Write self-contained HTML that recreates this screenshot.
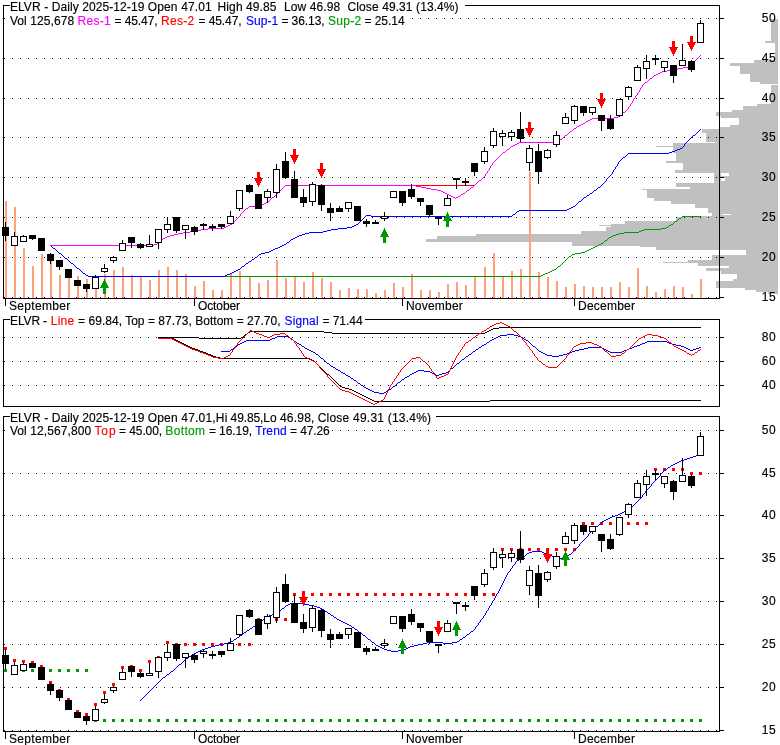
<!DOCTYPE html>
<html><head><meta charset="utf-8"><title>ELVR chart</title>
<style>html,body{margin:0;padding:0;background:#fff}svg{display:block}text{white-space:pre;stroke-width:0.15px}</style>
</head><body>
<svg width="780" height="745" viewBox="0 0 780 745" font-family="Liberation Sans, Arial, sans-serif" font-size="12px">
<rect x="0" y="0" width="780" height="745" fill="#fff"/>
<g shape-rendering="crispEdges">
<rect x="771" y="19" width="7" height="22" fill="#c0c0c0"/>
<rect x="765" y="41" width="13" height="2" fill="#c0c0c0"/>
<rect x="775" y="43" width="3" height="17" fill="#c0c0c0"/>
<rect x="754" y="60" width="24" height="3" fill="#c0c0c0"/>
<rect x="730" y="63" width="48" height="3" fill="#c0c0c0"/>
<rect x="740" y="66" width="38" height="8" fill="#c0c0c0"/>
<rect x="750" y="74" width="28" height="8" fill="#c0c0c0"/>
<rect x="760" y="82" width="18" height="2" fill="#c0c0c0"/>
<rect x="771" y="85" width="7" height="19" fill="#c0c0c0"/>
<rect x="757" y="104" width="21" height="2" fill="#c0c0c0"/>
<rect x="743" y="106" width="35" height="4" fill="#c0c0c0"/>
<rect x="732" y="110" width="46" height="2" fill="#c0c0c0"/>
<rect x="716" y="112" width="62" height="4" fill="#c0c0c0"/>
<rect x="721" y="116" width="57" height="2" fill="#c0c0c0"/>
<rect x="739" y="118" width="39" height="7" fill="#c0c0c0"/>
<rect x="730" y="125" width="48" height="2" fill="#c0c0c0"/>
<rect x="720" y="127" width="58" height="2" fill="#c0c0c0"/>
<rect x="702" y="129" width="76" height="4" fill="#c0c0c0"/>
<rect x="706" y="133" width="72" height="9" fill="#c0c0c0"/>
<rect x="715" y="142" width="63" height="1" fill="#c0c0c0"/>
<rect x="673" y="143" width="105" height="3" fill="#c0c0c0"/>
<rect x="656" y="146" width="122" height="1" fill="#c0c0c0"/>
<rect x="673" y="147" width="105" height="6" fill="#c0c0c0"/>
<rect x="676" y="153" width="102" height="8" fill="#c0c0c0"/>
<rect x="666" y="161" width="112" height="2" fill="#c0c0c0"/>
<rect x="683" y="163" width="95" height="7" fill="#c0c0c0"/>
<rect x="675" y="170" width="103" height="3" fill="#c0c0c0"/>
<rect x="714" y="173" width="64" height="10" fill="#c0c0c0"/>
<rect x="676" y="183" width="102" height="4" fill="#c0c0c0"/>
<rect x="690" y="187" width="88" height="2" fill="#c0c0c0"/>
<rect x="642" y="189" width="136" height="1" fill="#c0c0c0"/>
<rect x="647" y="190" width="131" height="8" fill="#c0c0c0"/>
<rect x="654" y="198" width="124" height="3" fill="#c0c0c0"/>
<rect x="671" y="201" width="107" height="3" fill="#c0c0c0"/>
<rect x="695" y="204" width="83" height="4" fill="#c0c0c0"/>
<rect x="708" y="208" width="70" height="5" fill="#c0c0c0"/>
<rect x="712" y="213" width="66" height="3" fill="#c0c0c0"/>
<rect x="700" y="216" width="78" height="1" fill="#c0c0c0"/>
<rect x="676" y="217" width="102" height="4" fill="#c0c0c0"/>
<rect x="625" y="221" width="153" height="3" fill="#c0c0c0"/>
<rect x="611" y="224" width="167" height="3" fill="#c0c0c0"/>
<rect x="599" y="225" width="179" height="1" fill="#c0c0c0"/>
<rect x="606" y="227" width="172" height="4" fill="#c0c0c0"/>
<rect x="581" y="231" width="197" height="3" fill="#c0c0c0"/>
<rect x="476" y="234" width="302" height="2" fill="#c0c0c0"/>
<rect x="437" y="236" width="341" height="3" fill="#c0c0c0"/>
<rect x="426" y="239" width="352" height="3" fill="#c0c0c0"/>
<rect x="572" y="242" width="206" height="4" fill="#c0c0c0"/>
<rect x="640" y="246" width="138" height="1" fill="#c0c0c0"/>
<rect x="656" y="247" width="122" height="3" fill="#c0c0c0"/>
<rect x="746" y="250" width="32" height="5" fill="#c0c0c0"/>
<rect x="712" y="255" width="66" height="5" fill="#c0c0c0"/>
<rect x="688" y="260" width="90" height="2" fill="#c0c0c0"/>
<rect x="663" y="262" width="115" height="1" fill="#c0c0c0"/>
<rect x="698" y="263" width="80" height="3" fill="#c0c0c0"/>
<rect x="729" y="266" width="49" height="2" fill="#c0c0c0"/>
<rect x="706" y="268" width="72" height="3" fill="#c0c0c0"/>
<rect x="721" y="271" width="57" height="3" fill="#c0c0c0"/>
<rect x="737" y="274" width="41" height="5" fill="#c0c0c0"/>
<rect x="733" y="279" width="45" height="2" fill="#c0c0c0"/>
<rect x="716" y="281" width="62" height="7" fill="#c0c0c0"/>
<rect x="745" y="288" width="33" height="2" fill="#c0c0c0"/>
<rect x="756" y="290" width="22" height="2" fill="#c0c0c0"/>
<rect x="768" y="292" width="10" height="2" fill="#c0c0c0"/>
<rect x="721" y="173" width="8" height="3" fill="#fff"/>
<rect x="721" y="178" width="4" height="3" fill="#fff"/>
<rect x="722" y="214" width="9" height="1" fill="#fff"/>
<rect x="721" y="266" width="8" height="2" fill="#fff"/>
<path d="M4 18.5H719" stroke="#000" stroke-dasharray="1 7" fill="none"/>
<rect x="720" y="18" width="4" height="1" fill="#000"/>
<path d="M4 58.5H719" stroke="#000" stroke-dasharray="1 7" fill="none"/>
<rect x="720" y="58" width="4" height="1" fill="#000"/>
<path d="M4 98.5H719" stroke="#000" stroke-dasharray="1 7" fill="none"/>
<rect x="720" y="98" width="4" height="1" fill="#000"/>
<path d="M4 137.5H719" stroke="#000" stroke-dasharray="1 7" fill="none"/>
<rect x="720" y="137" width="4" height="1" fill="#000"/>
<path d="M4 177.5H719" stroke="#000" stroke-dasharray="1 7" fill="none"/>
<rect x="720" y="177" width="4" height="1" fill="#000"/>
<path d="M4 217.5H719" stroke="#000" stroke-dasharray="1 7" fill="none"/>
<rect x="720" y="217" width="4" height="1" fill="#000"/>
<path d="M4 257.5H719" stroke="#000" stroke-dasharray="1 7" fill="none"/>
<rect x="720" y="257" width="4" height="1" fill="#000"/>
<path d="M4 297.5H719" stroke="#000" stroke-dasharray="1 7" fill="none"/>
<rect x="720" y="297" width="4" height="1" fill="#000"/>
<rect x="5" y="201" width="2" height="97" fill="#ffa07a"/>
<rect x="14" y="207" width="2" height="91" fill="#ffa07a"/>
<rect x="23" y="248" width="2" height="50" fill="#ffa07a"/>
<rect x="32" y="266" width="2" height="32" fill="#ffa07a"/>
<rect x="41" y="254" width="2" height="44" fill="#ffa07a"/>
<rect x="50" y="258" width="2" height="40" fill="#ffa07a"/>
<rect x="59" y="275" width="2" height="23" fill="#ffa07a"/>
<rect x="68" y="272" width="2" height="26" fill="#ffa07a"/>
<rect x="77" y="276" width="2" height="22" fill="#ffa07a"/>
<rect x="86" y="279" width="2" height="19" fill="#ffa07a"/>
<rect x="95" y="278" width="2" height="20" fill="#ffa07a"/>
<rect x="104" y="274" width="2" height="24" fill="#ffa07a"/>
<rect x="113" y="270" width="2" height="28" fill="#ffa07a"/>
<rect x="122" y="267" width="2" height="31" fill="#ffa07a"/>
<rect x="131" y="275" width="2" height="23" fill="#ffa07a"/>
<rect x="140" y="276" width="2" height="22" fill="#ffa07a"/>
<rect x="149" y="280" width="2" height="18" fill="#ffa07a"/>
<rect x="158" y="270" width="2" height="28" fill="#ffa07a"/>
<rect x="167" y="267" width="2" height="31" fill="#ffa07a"/>
<rect x="176" y="270" width="2" height="28" fill="#ffa07a"/>
<rect x="185" y="274" width="2" height="24" fill="#ffa07a"/>
<rect x="194" y="286" width="2" height="12" fill="#ffa07a"/>
<rect x="203" y="281" width="2" height="17" fill="#ffa07a"/>
<rect x="212" y="290" width="2" height="8" fill="#ffa07a"/>
<rect x="221" y="290" width="2" height="8" fill="#ffa07a"/>
<rect x="230" y="274" width="2" height="24" fill="#ffa07a"/>
<rect x="239" y="271" width="2" height="27" fill="#ffa07a"/>
<rect x="249" y="277" width="2" height="21" fill="#ffa07a"/>
<rect x="258" y="283" width="2" height="15" fill="#ffa07a"/>
<rect x="267" y="280" width="2" height="18" fill="#ffa07a"/>
<rect x="276" y="260" width="2" height="38" fill="#ffa07a"/>
<rect x="285" y="278" width="2" height="20" fill="#ffa07a"/>
<rect x="294" y="276" width="2" height="22" fill="#ffa07a"/>
<rect x="303" y="282" width="2" height="16" fill="#ffa07a"/>
<rect x="312" y="272" width="2" height="26" fill="#ffa07a"/>
<rect x="321" y="278" width="2" height="20" fill="#ffa07a"/>
<rect x="330" y="282" width="2" height="16" fill="#ffa07a"/>
<rect x="339" y="290" width="2" height="8" fill="#ffa07a"/>
<rect x="348" y="288" width="2" height="10" fill="#ffa07a"/>
<rect x="357" y="289" width="2" height="9" fill="#ffa07a"/>
<rect x="366" y="289" width="2" height="9" fill="#ffa07a"/>
<rect x="375" y="293" width="2" height="5" fill="#ffa07a"/>
<rect x="384" y="290" width="2" height="8" fill="#ffa07a"/>
<rect x="393" y="283" width="2" height="15" fill="#ffa07a"/>
<rect x="402" y="287" width="2" height="11" fill="#ffa07a"/>
<rect x="411" y="274" width="2" height="24" fill="#ffa07a"/>
<rect x="420" y="290" width="2" height="8" fill="#ffa07a"/>
<rect x="429" y="290" width="2" height="8" fill="#ffa07a"/>
<rect x="438" y="292" width="2" height="6" fill="#ffa07a"/>
<rect x="447" y="284" width="2" height="14" fill="#ffa07a"/>
<rect x="456" y="282" width="2" height="16" fill="#ffa07a"/>
<rect x="465" y="285" width="2" height="13" fill="#ffa07a"/>
<rect x="474" y="277" width="2" height="21" fill="#ffa07a"/>
<rect x="484" y="267" width="2" height="31" fill="#ffa07a"/>
<rect x="493" y="253" width="2" height="45" fill="#ffa07a"/>
<rect x="502" y="277" width="2" height="21" fill="#ffa07a"/>
<rect x="511" y="271" width="2" height="27" fill="#ffa07a"/>
<rect x="520" y="269" width="2" height="29" fill="#ffa07a"/>
<rect x="529" y="172" width="2" height="126" fill="#ffa07a"/>
<rect x="538" y="272" width="2" height="26" fill="#ffa07a"/>
<rect x="547" y="277" width="2" height="21" fill="#ffa07a"/>
<rect x="556" y="281" width="2" height="17" fill="#ffa07a"/>
<rect x="565" y="287" width="2" height="11" fill="#ffa07a"/>
<rect x="574" y="284" width="2" height="14" fill="#ffa07a"/>
<rect x="583" y="286" width="2" height="12" fill="#ffa07a"/>
<rect x="592" y="287" width="2" height="11" fill="#ffa07a"/>
<rect x="601" y="287" width="2" height="11" fill="#ffa07a"/>
<rect x="610" y="287" width="2" height="11" fill="#ffa07a"/>
<rect x="619" y="282" width="2" height="16" fill="#ffa07a"/>
<rect x="628" y="287" width="2" height="11" fill="#ffa07a"/>
<rect x="637" y="268" width="2" height="30" fill="#ffa07a"/>
<rect x="646" y="286" width="2" height="12" fill="#ffa07a"/>
<rect x="655" y="292" width="2" height="6" fill="#ffa07a"/>
<rect x="664" y="289" width="2" height="9" fill="#ffa07a"/>
<rect x="673" y="286" width="2" height="12" fill="#ffa07a"/>
<rect x="682" y="287" width="2" height="11" fill="#ffa07a"/>
<rect x="691" y="294" width="2" height="4" fill="#ffa07a"/>
<rect x="700" y="279" width="2" height="19" fill="#ffa07a"/>
<rect x="3" y="5" width="1" height="294" fill="#000"/>
<rect x="3" y="5" width="717" height="1" fill="#000"/>
<rect x="719" y="5" width="1" height="294" fill="#000"/>
<rect x="3" y="298" width="717" height="1" fill="#000"/>
<rect x="5" y="299" width="1" height="7" fill="#000"/>
<rect x="194" y="299" width="1" height="7" fill="#000"/>
<rect x="402" y="299" width="1" height="7" fill="#000"/>
<rect x="574" y="299" width="1" height="7" fill="#000"/>
</g>
<g shape-rendering="crispEdges">
<path d="M682 216.5h19M681 217.5h1M679 218.5h2M678 219.5h1M677 220.5h1M675 221.5h2M674 222.5h1M673 223.5h1M671 224.5h2M669 225.5h2M668 226.5h1M666 227.5h2M661 228.5h5M644 229.5h17M641 230.5h3M639 231.5h2M624 232.5h15M619 233.5h5M616 234.5h3M613 235.5h3M611 236.5h2M609 237.5h2M608 238.5h1M607 239.5h1M605 240.5h2M604 241.5h1M603 242.5h1M601 243.5h2M599 244.5h2M597 245.5h2M595 246.5h2M593 247.5h2M591 248.5h2M589 249.5h2M587 250.5h2M585 251.5h2M581 252.5h4M575 253.5h6M572 254.5h3M571 255.5h1M569 256.5h2M568 257.5h1M567 258.5h1M566 259.5h1M565 260.5h1M564 261.5h1M563 262.5h1M562 263.5h1M561 264.5h1M560 265.5h1M558 266.5h2M557 267.5h1M556 268.5h1M554 269.5h2M552 270.5h2M550 271.5h2M548 272.5h2M545 273.5h3M543 274.5h2M541 275.5h2M90 276.5h451" fill="none" stroke="#009900" stroke-width="1"/>
<path d="M700 129.5h1M699 130.5h1M698 131.5h1M697 132.5h1M696 133.5h1M695 134.5h1M693 135.5h2M692 136.5h1M691 137.5h1M690 138.5h1M689 139.5h1M688 140.5h1M687 141.5h1M686 142.5h1M685 143.5h1M684 144.5h1M684 145.5h1M683 146.5h1M682 147.5h1M680 148.5h2M677 149.5h3M675 150.5h2M672 151.5h3M669 152.5h3M628 153.5h41M627 154.5h1M626 155.5h1M625 156.5h1M623 157.5h2M622 158.5h1M621 159.5h1M620 160.5h1M619 161.5h1M618 162.5h1M618 163.5h1M617 164.5h1M617 165.5h1M616 166.5h1M615 167.5h1M615 168.5h1M614 169.5h1M613 170.5h1M613 171.5h1M612 172.5h1M612 173.5h1M611 174.5h1M610 175.5h1M609 176.5h1M608 177.5h1M607 178.5h1M606 179.5h1M606 180.5h1M605 181.5h1M604 182.5h1M603 183.5h1M602 184.5h1M601 185.5h1M600 186.5h1M598 187.5h2M597 188.5h1M596 189.5h1M594 190.5h2M593 191.5h1M592 192.5h1M590 193.5h2M589 194.5h1M587 195.5h2M586 196.5h1M584 197.5h2M583 198.5h1M582 199.5h1M581 200.5h1M579 201.5h2M578 202.5h1M577 203.5h1M576 204.5h1M575 205.5h1M573 206.5h2M571 207.5h2M569 208.5h2M567 209.5h2M519 210.5h48M517 211.5h2M516 212.5h1M515 213.5h1M513 214.5h2M366 215.5h5M512 215.5h1M365 216.5h1M371 216.5h141M364 217.5h1M363 218.5h1M362 219.5h1M361 220.5h1M360 221.5h1M359 222.5h1M358 223.5h1M356 224.5h2M354 225.5h2M352 226.5h2M347 227.5h5M338 228.5h9M331 229.5h7M327 230.5h4M323 231.5h4M309 232.5h14M305 233.5h4M302 234.5h3M299 235.5h3M297 236.5h2M295 237.5h2M293 238.5h2M291 239.5h2M290 240.5h1M289 241.5h1M287 242.5h2M286 243.5h1M284 244.5h2M50 245.5h1M282 245.5h2M51 246.5h1M280 246.5h2M52 247.5h1M278 247.5h2M53 248.5h2M275 248.5h3M55 249.5h1M273 249.5h2M56 250.5h1M271 250.5h2M57 251.5h1M269 251.5h2M58 252.5h1M265 252.5h4M59 253.5h2M261 253.5h4M61 254.5h1M259 254.5h2M62 255.5h1M258 255.5h1M63 256.5h1M257 256.5h1M64 257.5h1M255 257.5h2M65 258.5h2M254 258.5h1M67 259.5h1M252 259.5h2M68 260.5h1M251 260.5h1M69 261.5h1M249 261.5h2M70 262.5h1M248 262.5h1M71 263.5h2M246 263.5h2M73 264.5h1M245 264.5h1M74 265.5h1M244 265.5h1M75 266.5h1M242 266.5h2M76 267.5h1M241 267.5h1M77 268.5h2M240 268.5h1M79 269.5h1M238 269.5h2M80 270.5h1M236 270.5h2M81 271.5h1M234 271.5h2M82 272.5h1M232 272.5h2M83 273.5h2M230 273.5h2M85 274.5h1M227 274.5h3M86 275.5h2M225 275.5h2M88 276.5h137" fill="none" stroke="#0000ff" stroke-width="1"/>
<path d="M411 185.5h64" fill="none" stroke="#ff0000" stroke-width="1"/>
<path d="M700 55.5h1M699 56.5h1M698 57.5h1M697 58.5h1M696 59.5h1M695 60.5h1M694 61.5h1M694 62.5h1M693 63.5h1M692 64.5h1M692 65.5h1M689 66.5h3M683 67.5h6M678 68.5h5M673 69.5h5M667 70.5h6M662 71.5h5M660 72.5h2M658 73.5h2M656 74.5h2M654 75.5h2M653 76.5h1M652 77.5h1M650 78.5h2M649 79.5h1M648 80.5h1M647 81.5h1M645 82.5h2M644 83.5h1M643 84.5h1M642 85.5h1M642 86.5h1M641 87.5h1M640 88.5h1M640 89.5h1M639 90.5h1M639 91.5h1M638 92.5h1M637 93.5h1M637 94.5h1M636 95.5h1M635 96.5h1M635 97.5h1M634 98.5h1M633 99.5h1M633 100.5h1M632 101.5h1M632 102.5h1M631 103.5h1M630 104.5h1M630 105.5h1M629 106.5h1M628 107.5h1M628 108.5h1M627 109.5h1M626 110.5h1M625 111.5h1M623 112.5h2M622 113.5h1M621 114.5h1M620 115.5h1M618 116.5h2M614 117.5h4M592 118.5h22M590 119.5h2M588 120.5h2M586 121.5h2M585 122.5h1M583 123.5h2M581 124.5h2M579 125.5h2M577 126.5h2M576 127.5h1M574 128.5h2M573 129.5h1M572 130.5h1M570 131.5h2M569 132.5h1M568 133.5h1M567 134.5h1M565 135.5h2M564 136.5h1M563 137.5h1M562 138.5h1M560 139.5h2M557 140.5h3M555 141.5h2M519 142.5h36M517 143.5h2M515 144.5h2M513 145.5h2M511 146.5h2M510 147.5h1M509 148.5h1M507 149.5h2M506 150.5h1M505 151.5h1M503 152.5h2M502 153.5h1M501 154.5h1M500 155.5h1M499 156.5h1M498 157.5h1M497 158.5h1M496 159.5h1M495 160.5h1M494 161.5h1M493 162.5h1M492 163.5h1M492 164.5h1M491 165.5h1M490 166.5h1M490 167.5h1M489 168.5h1M489 169.5h1M488 170.5h1M487 171.5h1M487 172.5h1M486 173.5h1M485 174.5h1M485 175.5h1M484 176.5h1M483 177.5h1M482 178.5h1M481 179.5h1M479 180.5h2M478 181.5h1M477 182.5h1M476 183.5h1M475 184.5h1M285 185.5h131M474 185.5h1M284 186.5h1M416 186.5h5M473 186.5h1M283 187.5h1M421 187.5h5M471 187.5h2M282 188.5h1M426 188.5h5M470 188.5h1M281 189.5h1M431 189.5h6M469 189.5h1M280 190.5h1M437 190.5h4M467 190.5h2M279 191.5h1M441 191.5h2M466 191.5h1M278 192.5h1M443 192.5h2M465 192.5h1M277 193.5h1M445 193.5h2M463 193.5h2M276 194.5h1M447 194.5h2M461 194.5h2M275 195.5h1M449 195.5h2M460 195.5h1M274 196.5h1M451 196.5h2M458 196.5h2M272 197.5h2M453 197.5h2M456 197.5h2M271 198.5h1M455 198.5h1M270 199.5h1M269 200.5h1M268 201.5h1M266 202.5h2M264 203.5h2M262 204.5h2M260 205.5h2M249 206.5h11M248 207.5h1M246 208.5h2M245 209.5h1M244 210.5h1M243 211.5h1M242 212.5h1M241 213.5h1M240 214.5h1M240 215.5h1M239 216.5h1M238 217.5h1M237 218.5h1M236 219.5h1M235 220.5h1M234 221.5h1M233 222.5h1M232 223.5h1M230 224.5h2M228 225.5h2M226 226.5h2M224 227.5h2M208 228.5h16M201 229.5h7M197 230.5h4M190 231.5h7M183 232.5h7M178 233.5h5M174 234.5h4M170 235.5h4M167 236.5h3M165 237.5h2M163 238.5h2M162 239.5h1M161 240.5h1M160 241.5h1M159 242.5h1M157 243.5h2M154 244.5h3M50 245.5h97M152 245.5h2M147 246.5h5" fill="none" stroke="#ff00ff" stroke-width="1"/>
<rect x="5" y="222" width="1" height="5" fill="#000"/>
<rect x="5" y="236" width="1" height="5" fill="#000"/>
<rect x="2" y="227" width="7" height="9" fill="#000"/>
<rect x="14" y="232" width="1" height="4" fill="#000"/>
<rect x="11" y="236" width="7" height="10" fill="#000"/>
<rect x="12" y="237" width="5" height="8" fill="#fff"/>
<rect x="23" y="235" width="1" height="1" fill="#000"/>
<rect x="20" y="236" width="7" height="6" fill="#000"/>
<rect x="21" y="237" width="5" height="4" fill="#fff"/>
<rect x="32" y="239" width="1" height="1" fill="#000"/>
<rect x="29" y="235" width="7" height="4" fill="#000"/>
<rect x="38" y="238" width="7" height="13" fill="#000"/>
<rect x="50" y="253" width="1" height="1" fill="#000"/>
<rect x="50" y="261" width="1" height="3" fill="#000"/>
<rect x="47" y="254" width="7" height="7" fill="#000"/>
<rect x="59" y="267" width="1" height="3" fill="#000"/>
<rect x="56" y="260" width="7" height="7" fill="#000"/>
<rect x="65" y="269" width="7" height="9" fill="#000"/>
<rect x="74" y="280" width="7" height="6" fill="#000"/>
<rect x="86" y="289" width="1" height="3" fill="#000"/>
<rect x="83" y="284" width="7" height="5" fill="#000"/>
<rect x="95" y="275" width="1" height="2" fill="#000"/>
<rect x="92" y="277" width="7" height="12" fill="#000"/>
<rect x="93" y="278" width="5" height="10" fill="#fff"/>
<rect x="104" y="264" width="1" height="4" fill="#000"/>
<rect x="104" y="272" width="1" height="1" fill="#000"/>
<rect x="101" y="268" width="7" height="4" fill="#000"/>
<rect x="102" y="269" width="5" height="2" fill="#fff"/>
<rect x="113" y="256" width="1" height="1" fill="#000"/>
<rect x="113" y="261" width="1" height="2" fill="#000"/>
<rect x="110" y="257" width="7" height="4" fill="#000"/>
<rect x="111" y="258" width="5" height="2" fill="#fff"/>
<rect x="122" y="240" width="1" height="3" fill="#000"/>
<rect x="119" y="243" width="7" height="8" fill="#000"/>
<rect x="120" y="244" width="5" height="6" fill="#fff"/>
<rect x="131" y="243" width="1" height="5" fill="#000"/>
<rect x="128" y="237" width="7" height="6" fill="#000"/>
<rect x="140" y="243" width="1" height="1" fill="#000"/>
<rect x="140" y="248" width="1" height="1" fill="#000"/>
<rect x="137" y="244" width="7" height="4" fill="#000"/>
<rect x="149" y="235" width="1" height="9" fill="#000"/>
<rect x="146" y="244" width="7" height="3" fill="#000"/>
<rect x="147" y="245" width="5" height="1" fill="#fff"/>
<rect x="158" y="243" width="1" height="6" fill="#000"/>
<rect x="155" y="229" width="7" height="14" fill="#000"/>
<rect x="156" y="230" width="5" height="12" fill="#fff"/>
<rect x="167" y="217" width="1" height="7" fill="#000"/>
<rect x="167" y="230" width="1" height="3" fill="#000"/>
<rect x="164" y="224" width="7" height="6" fill="#000"/>
<rect x="165" y="225" width="5" height="4" fill="#fff"/>
<rect x="176" y="231" width="1" height="2" fill="#000"/>
<rect x="173" y="217" width="7" height="14" fill="#000"/>
<rect x="185" y="230" width="1" height="9" fill="#000"/>
<rect x="182" y="225" width="7" height="5" fill="#000"/>
<rect x="183" y="226" width="5" height="3" fill="#fff"/>
<rect x="194" y="226" width="1" height="1" fill="#000"/>
<rect x="194" y="232" width="1" height="3" fill="#000"/>
<rect x="191" y="227" width="7" height="5" fill="#000"/>
<rect x="203" y="223" width="1" height="1" fill="#000"/>
<rect x="203" y="226" width="1" height="4" fill="#000"/>
<rect x="200" y="224" width="7" height="2" fill="#000"/>
<rect x="212" y="224" width="1" height="2" fill="#000"/>
<rect x="212" y="228" width="1" height="3" fill="#000"/>
<rect x="209" y="226" width="7" height="2" fill="#000"/>
<rect x="221" y="227" width="1" height="2" fill="#000"/>
<rect x="218" y="224" width="7" height="3" fill="#000"/>
<rect x="230" y="211" width="1" height="5" fill="#000"/>
<rect x="227" y="216" width="7" height="8" fill="#000"/>
<rect x="228" y="217" width="5" height="6" fill="#fff"/>
<rect x="239" y="209" width="1" height="2" fill="#000"/>
<rect x="236" y="190" width="7" height="19" fill="#000"/>
<rect x="237" y="191" width="5" height="17" fill="#fff"/>
<rect x="249" y="184" width="1" height="1" fill="#000"/>
<rect x="249" y="192" width="1" height="1" fill="#000"/>
<rect x="246" y="185" width="7" height="7" fill="#000"/>
<rect x="255" y="194" width="7" height="15" fill="#000"/>
<rect x="267" y="189" width="1" height="2" fill="#000"/>
<rect x="267" y="198" width="1" height="5" fill="#000"/>
<rect x="264" y="191" width="7" height="7" fill="#000"/>
<rect x="265" y="192" width="5" height="5" fill="#fff"/>
<rect x="276" y="164" width="1" height="5" fill="#000"/>
<rect x="276" y="193" width="1" height="5" fill="#000"/>
<rect x="273" y="169" width="7" height="24" fill="#000"/>
<rect x="274" y="170" width="5" height="22" fill="#fff"/>
<rect x="285" y="152" width="1" height="9" fill="#000"/>
<rect x="285" y="178" width="1" height="1" fill="#000"/>
<rect x="282" y="161" width="7" height="17" fill="#000"/>
<rect x="294" y="171" width="1" height="8" fill="#000"/>
<rect x="291" y="179" width="7" height="19" fill="#000"/>
<rect x="303" y="189" width="1" height="8" fill="#000"/>
<rect x="303" y="203" width="1" height="4" fill="#000"/>
<rect x="300" y="197" width="7" height="6" fill="#000"/>
<rect x="312" y="182" width="1" height="2" fill="#000"/>
<rect x="312" y="202" width="1" height="4" fill="#000"/>
<rect x="309" y="184" width="7" height="18" fill="#000"/>
<rect x="310" y="185" width="5" height="16" fill="#fff"/>
<rect x="321" y="184" width="1" height="1" fill="#000"/>
<rect x="321" y="205" width="1" height="6" fill="#000"/>
<rect x="318" y="185" width="7" height="20" fill="#000"/>
<rect x="330" y="203" width="1" height="5" fill="#000"/>
<rect x="330" y="213" width="1" height="8" fill="#000"/>
<rect x="327" y="208" width="7" height="5" fill="#000"/>
<rect x="339" y="206" width="1" height="2" fill="#000"/>
<rect x="336" y="208" width="7" height="4" fill="#000"/>
<rect x="348" y="209" width="1" height="3" fill="#000"/>
<rect x="345" y="202" width="7" height="7" fill="#000"/>
<rect x="346" y="203" width="5" height="5" fill="#fff"/>
<rect x="354" y="206" width="7" height="15" fill="#000"/>
<rect x="366" y="219" width="1" height="2" fill="#000"/>
<rect x="366" y="224" width="1" height="3" fill="#000"/>
<rect x="363" y="221" width="7" height="3" fill="#000"/>
<rect x="375" y="220" width="1" height="2" fill="#000"/>
<rect x="372" y="222" width="7" height="2" fill="#000"/>
<rect x="384" y="212" width="1" height="4" fill="#000"/>
<rect x="384" y="219" width="1" height="2" fill="#000"/>
<rect x="381" y="216" width="7" height="3" fill="#000"/>
<rect x="382" y="217" width="5" height="1" fill="#fff"/>
<rect x="390" y="191" width="7" height="7" fill="#000"/>
<rect x="391" y="192" width="5" height="5" fill="#fff"/>
<rect x="402" y="203" width="1" height="3" fill="#000"/>
<rect x="399" y="191" width="7" height="12" fill="#000"/>
<rect x="411" y="184" width="1" height="5" fill="#000"/>
<rect x="411" y="197" width="1" height="2" fill="#000"/>
<rect x="408" y="189" width="7" height="8" fill="#000"/>
<rect x="420" y="202" width="1" height="4" fill="#000"/>
<rect x="417" y="198" width="7" height="4" fill="#000"/>
<rect x="429" y="215" width="1" height="2" fill="#000"/>
<rect x="426" y="205" width="7" height="10" fill="#000"/>
<rect x="438" y="219" width="1" height="6" fill="#000"/>
<rect x="435" y="217" width="7" height="2" fill="#000"/>
<rect x="447" y="195" width="1" height="3" fill="#000"/>
<rect x="444" y="198" width="7" height="8" fill="#000"/>
<rect x="445" y="199" width="5" height="6" fill="#fff"/>
<rect x="456" y="180" width="1" height="9" fill="#000"/>
<rect x="453" y="178" width="7" height="2" fill="#000"/>
<rect x="465" y="178" width="1" height="3" fill="#000"/>
<rect x="465" y="183" width="1" height="3" fill="#000"/>
<rect x="462" y="181" width="7" height="2" fill="#000"/>
<rect x="474" y="172" width="1" height="4" fill="#000"/>
<rect x="471" y="163" width="7" height="9" fill="#000"/>
<rect x="484" y="147" width="1" height="4" fill="#000"/>
<rect x="484" y="162" width="1" height="2" fill="#000"/>
<rect x="481" y="151" width="7" height="11" fill="#000"/>
<rect x="482" y="152" width="5" height="9" fill="#fff"/>
<rect x="493" y="128" width="1" height="3" fill="#000"/>
<rect x="493" y="146" width="1" height="2" fill="#000"/>
<rect x="490" y="131" width="7" height="15" fill="#000"/>
<rect x="491" y="132" width="5" height="13" fill="#fff"/>
<rect x="502" y="130" width="1" height="3" fill="#000"/>
<rect x="502" y="137" width="1" height="9" fill="#000"/>
<rect x="499" y="133" width="7" height="4" fill="#000"/>
<rect x="500" y="134" width="5" height="2" fill="#fff"/>
<rect x="511" y="130" width="1" height="2" fill="#000"/>
<rect x="511" y="137" width="1" height="4" fill="#000"/>
<rect x="508" y="132" width="7" height="5" fill="#000"/>
<rect x="509" y="133" width="5" height="3" fill="#fff"/>
<rect x="520" y="112" width="1" height="17" fill="#000"/>
<rect x="520" y="139" width="1" height="3" fill="#000"/>
<rect x="517" y="129" width="7" height="10" fill="#000"/>
<rect x="529" y="145" width="1" height="3" fill="#000"/>
<rect x="529" y="163" width="1" height="8" fill="#000"/>
<rect x="526" y="148" width="7" height="15" fill="#000"/>
<rect x="527" y="149" width="5" height="13" fill="#fff"/>
<rect x="538" y="144" width="1" height="7" fill="#000"/>
<rect x="538" y="172" width="1" height="12" fill="#000"/>
<rect x="535" y="151" width="7" height="21" fill="#000"/>
<rect x="547" y="149" width="1" height="1" fill="#000"/>
<rect x="547" y="158" width="1" height="1" fill="#000"/>
<rect x="544" y="150" width="7" height="8" fill="#000"/>
<rect x="545" y="151" width="5" height="6" fill="#fff"/>
<rect x="556" y="131" width="1" height="4" fill="#000"/>
<rect x="556" y="145" width="1" height="2" fill="#000"/>
<rect x="553" y="135" width="7" height="10" fill="#000"/>
<rect x="554" y="136" width="5" height="8" fill="#fff"/>
<rect x="565" y="113" width="1" height="4" fill="#000"/>
<rect x="562" y="117" width="7" height="7" fill="#000"/>
<rect x="563" y="118" width="5" height="5" fill="#fff"/>
<rect x="574" y="105" width="1" height="1" fill="#000"/>
<rect x="574" y="121" width="1" height="3" fill="#000"/>
<rect x="571" y="106" width="7" height="15" fill="#000"/>
<rect x="572" y="107" width="5" height="13" fill="#fff"/>
<rect x="583" y="113" width="1" height="3" fill="#000"/>
<rect x="580" y="106" width="7" height="7" fill="#000"/>
<rect x="592" y="113" width="1" height="2" fill="#000"/>
<rect x="589" y="107" width="7" height="6" fill="#000"/>
<rect x="590" y="108" width="5" height="4" fill="#fff"/>
<rect x="601" y="121" width="1" height="10" fill="#000"/>
<rect x="598" y="115" width="7" height="6" fill="#000"/>
<rect x="610" y="115" width="1" height="4" fill="#000"/>
<rect x="610" y="129" width="1" height="1" fill="#000"/>
<rect x="607" y="119" width="7" height="10" fill="#000"/>
<rect x="619" y="116" width="1" height="1" fill="#000"/>
<rect x="616" y="99" width="7" height="17" fill="#000"/>
<rect x="617" y="100" width="5" height="15" fill="#fff"/>
<rect x="628" y="86" width="1" height="1" fill="#000"/>
<rect x="628" y="97" width="1" height="3" fill="#000"/>
<rect x="625" y="87" width="7" height="10" fill="#000"/>
<rect x="626" y="88" width="5" height="8" fill="#fff"/>
<rect x="637" y="65" width="1" height="2" fill="#000"/>
<rect x="634" y="67" width="7" height="14" fill="#000"/>
<rect x="635" y="68" width="5" height="12" fill="#fff"/>
<rect x="646" y="55" width="1" height="6" fill="#000"/>
<rect x="646" y="69" width="1" height="10" fill="#000"/>
<rect x="643" y="61" width="7" height="8" fill="#000"/>
<rect x="644" y="62" width="5" height="6" fill="#fff"/>
<rect x="655" y="55" width="1" height="3" fill="#000"/>
<rect x="655" y="60" width="1" height="5" fill="#000"/>
<rect x="652" y="58" width="7" height="2" fill="#000"/>
<rect x="664" y="68" width="1" height="4" fill="#000"/>
<rect x="661" y="61" width="7" height="7" fill="#000"/>
<rect x="662" y="62" width="5" height="5" fill="#fff"/>
<rect x="673" y="76" width="1" height="7" fill="#000"/>
<rect x="670" y="65" width="7" height="11" fill="#000"/>
<rect x="682" y="44" width="1" height="16" fill="#000"/>
<rect x="679" y="60" width="7" height="6" fill="#000"/>
<rect x="680" y="61" width="5" height="4" fill="#fff"/>
<rect x="691" y="60" width="1" height="1" fill="#000"/>
<rect x="691" y="70" width="1" height="2" fill="#000"/>
<rect x="688" y="61" width="7" height="9" fill="#000"/>
<rect x="700" y="20" width="1" height="3" fill="#000"/>
<rect x="697" y="23" width="7" height="20" fill="#000"/>
<rect x="698" y="24" width="5" height="18" fill="#fff"/>
</g>
<path d="M257 172.5h3M257 173.5h3M257 174.5h3M257 175.5h3M257 176.5h3M257 177.5h3M254 178.5h9M255 179.5h7M255 180.5h7M256 181.5h5M256 182.5h5M257 183.5h3M257 184.5h3M258 185.5h1M258 186.5h1" stroke="#ff0000" fill="none" shape-rendering="crispEdges"/>
<path d="M293 149.5h3M293 150.5h3M293 151.5h3M293 152.5h3M293 153.5h3M293 154.5h3M290 155.5h9M291 156.5h7M291 157.5h7M292 158.5h5M292 159.5h5M293 160.5h3M293 161.5h3M294 162.5h1M294 163.5h1" stroke="#ff0000" fill="none" shape-rendering="crispEdges"/>
<path d="M320 163.5h3M320 164.5h3M320 165.5h3M320 166.5h3M320 167.5h3M320 168.5h3M317 169.5h9M318 170.5h7M318 171.5h7M319 172.5h5M319 173.5h5M320 174.5h3M320 175.5h3M321 176.5h1M321 177.5h1" stroke="#ff0000" fill="none" shape-rendering="crispEdges"/>
<path d="M528 122.5h3M528 123.5h3M528 124.5h3M528 125.5h3M528 126.5h3M528 127.5h3M525 128.5h9M526 129.5h7M526 130.5h7M527 131.5h5M527 132.5h5M528 133.5h3M528 134.5h3M529 135.5h1M529 136.5h1" stroke="#ff0000" fill="none" shape-rendering="crispEdges"/>
<path d="M600 93.5h3M600 94.5h3M600 95.5h3M600 96.5h3M600 97.5h3M600 98.5h3M597 99.5h9M598 100.5h7M598 101.5h7M599 102.5h5M599 103.5h5M600 104.5h3M600 105.5h3M601 106.5h1M601 107.5h1" stroke="#ff0000" fill="none" shape-rendering="crispEdges"/>
<path d="M672 41.5h3M672 42.5h3M672 43.5h3M672 44.5h3M672 45.5h3M672 46.5h3M669 47.5h9M670 48.5h7M670 49.5h7M671 50.5h5M671 51.5h5M672 52.5h3M672 53.5h3M673 54.5h1M673 55.5h1" stroke="#ff0000" fill="none" shape-rendering="crispEdges"/>
<path d="M690 36.5h3M690 37.5h3M690 38.5h3M690 39.5h3M690 40.5h3M690 41.5h3M687 42.5h9M688 43.5h7M688 44.5h7M689 45.5h5M689 46.5h5M690 47.5h3M690 48.5h3M691 49.5h1M691 50.5h1" stroke="#ff0000" fill="none" shape-rendering="crispEdges"/>
<path d="M104 279.5h1M104 280.5h1M103 281.5h3M103 282.5h3M102 283.5h5M102 284.5h5M101 285.5h7M101 286.5h7M100 287.5h9M103 288.5h3M103 289.5h3M103 290.5h3M103 291.5h3M103 292.5h3M103 293.5h3" stroke="#009900" fill="none" shape-rendering="crispEdges"/>
<path d="M384 228.5h1M384 229.5h1M383 230.5h3M383 231.5h3M382 232.5h5M382 233.5h5M381 234.5h7M381 235.5h7M380 236.5h9M383 237.5h3M383 238.5h3M383 239.5h3M383 240.5h3M383 241.5h3M383 242.5h3" stroke="#009900" fill="none" shape-rendering="crispEdges"/>
<path d="M447 212.5h1M447 213.5h1M446 214.5h3M446 215.5h3M445 216.5h5M445 217.5h5M444 218.5h7M444 219.5h7M443 220.5h9M446 221.5h3M446 222.5h3M446 223.5h3M446 224.5h3M446 225.5h3M446 226.5h3" stroke="#009900" fill="none" shape-rendering="crispEdges"/>
<g shape-rendering="crispEdges">
<rect x="3" y="319" width="1" height="88" fill="#000"/>
<rect x="3" y="319" width="717" height="1" fill="#000"/>
<rect x="719" y="319" width="1" height="88" fill="#000"/>
<rect x="3" y="406" width="717" height="1" fill="#000"/>
<path d="M4 337.5H719" stroke="#000" stroke-dasharray="1 7" fill="none"/>
<rect x="720" y="337" width="4" height="1" fill="#000"/>
<path d="M4 361.5H719" stroke="#000" stroke-dasharray="1 7" fill="none"/>
<rect x="720" y="361" width="4" height="1" fill="#000"/>
<path d="M4 385.5H719" stroke="#000" stroke-dasharray="1 7" fill="none"/>
<rect x="720" y="385" width="4" height="1" fill="#000"/>
<path d="M499 327.5h202M493 328.5h6M491 329.5h2M489 330.5h2M250 331.5h74M487 331.5h2M248 332.5h2M324 332.5h8M485 332.5h2M247 333.5h1M332 333.5h153M245 334.5h2M244 335.5h1M243 336.5h1M158 337.5h41M241 337.5h2M199 338.5h42" fill="none" stroke="#000" stroke-width="1"/>
<path d="M170 337.5h2M172 338.5h2M174 339.5h2M176 340.5h2M178 341.5h2M180 342.5h2M182 343.5h2M184 344.5h2M186 345.5h2M188 346.5h2M190 347.5h2M192 348.5h3M195 349.5h3M198 350.5h2M200 351.5h3M203 352.5h3M206 353.5h2M208 354.5h3M211 355.5h2M213 356.5h3M216 357.5h4M220 358.5h90M310 359.5h2M312 360.5h2M314 361.5h1M315 362.5h1M316 363.5h1M317 364.5h1M318 365.5h1M319 366.5h1M320 367.5h1M321 368.5h1M322 369.5h1M323 370.5h1M324 371.5h1M325 372.5h1M326 373.5h1M327 374.5h2M329 375.5h1M330 376.5h1M331 377.5h1M332 378.5h1M333 379.5h1M334 380.5h1M335 381.5h1M336 382.5h1M337 383.5h1M338 384.5h1M339 385.5h1M340 386.5h2M342 387.5h3M345 388.5h4M349 389.5h3M352 390.5h2M354 391.5h2M356 392.5h2M358 393.5h2M360 394.5h2M362 395.5h2M364 396.5h2M366 397.5h2M368 398.5h2M370 399.5h2M372 400.5h2M490 400.5h211M374 401.5h116" fill="none" stroke="#000" stroke-width="1"/>
<path d="M507 334.5h7M500 335.5h7M514 335.5h4M277 336.5h11M498 336.5h2M518 336.5h3M275 337.5h2M288 337.5h2M496 337.5h2M521 337.5h2M272 338.5h3M290 338.5h1M494 338.5h2M523 338.5h1M270 339.5h2M291 339.5h2M492 339.5h2M524 339.5h2M246 340.5h24M293 340.5h1M490 340.5h2M526 340.5h2M244 341.5h2M294 341.5h2M489 341.5h1M528 341.5h1M647 341.5h20M242 342.5h2M296 342.5h1M487 342.5h2M529 342.5h1M645 342.5h2M667 342.5h2M240 343.5h2M297 343.5h2M486 343.5h1M530 343.5h1M642 343.5h3M669 343.5h3M238 344.5h2M299 344.5h2M484 344.5h2M531 344.5h1M640 344.5h2M672 344.5h4M237 345.5h1M301 345.5h1M482 345.5h2M532 345.5h1M637 345.5h3M676 345.5h5M235 346.5h2M302 346.5h2M481 346.5h1M533 346.5h2M634 346.5h3M681 346.5h3M234 347.5h1M304 347.5h1M479 347.5h2M535 347.5h1M588 347.5h14M632 347.5h2M684 347.5h2M699 347.5h2M233 348.5h1M305 348.5h2M478 348.5h1M536 348.5h1M584 348.5h4M602 348.5h2M629 348.5h3M686 348.5h2M696 348.5h3M231 349.5h2M307 349.5h2M476 349.5h2M537 349.5h1M579 349.5h5M604 349.5h2M627 349.5h2M688 349.5h2M693 349.5h3M230 350.5h1M309 350.5h2M475 350.5h1M538 350.5h1M575 350.5h4M606 350.5h2M624 350.5h3M690 350.5h3M221 351.5h9M311 351.5h2M473 351.5h2M539 351.5h2M572 351.5h3M608 351.5h2M622 351.5h2M313 352.5h2M472 352.5h1M541 352.5h2M569 352.5h3M610 352.5h12M315 353.5h1M471 353.5h1M543 353.5h2M567 353.5h2M316 354.5h2M469 354.5h2M545 354.5h2M563 354.5h4M318 355.5h1M468 355.5h1M547 355.5h5M559 355.5h4M319 356.5h1M466 356.5h2M552 356.5h7M320 357.5h1M465 357.5h1M321 358.5h2M464 358.5h1M323 359.5h1M462 359.5h2M324 360.5h1M461 360.5h1M325 361.5h1M460 361.5h1M326 362.5h1M459 362.5h1M327 363.5h2M457 363.5h2M329 364.5h1M456 364.5h1M330 365.5h1M455 365.5h1M331 366.5h2M454 366.5h1M333 367.5h2M453 367.5h1M335 368.5h1M451 368.5h2M336 369.5h2M450 369.5h1M338 370.5h2M418 370.5h6M449 370.5h1M340 371.5h1M416 371.5h2M424 371.5h6M448 371.5h1M341 372.5h2M414 372.5h2M430 372.5h2M446 372.5h2M343 373.5h2M412 373.5h2M432 373.5h2M442 373.5h4M345 374.5h1M410 374.5h2M434 374.5h2M439 374.5h3M346 375.5h2M409 375.5h1M436 375.5h3M348 376.5h2M407 376.5h2M350 377.5h1M405 377.5h2M351 378.5h2M404 378.5h1M353 379.5h1M402 379.5h2M354 380.5h2M401 380.5h1M356 381.5h1M400 381.5h1M357 382.5h1M398 382.5h2M358 383.5h2M397 383.5h1M360 384.5h1M396 384.5h1M361 385.5h2M395 385.5h1M363 386.5h1M393 386.5h2M364 387.5h2M392 387.5h1M366 388.5h2M391 388.5h1M368 389.5h2M389 389.5h2M370 390.5h2M387 390.5h2M372 391.5h2M386 391.5h1M374 392.5h5M384 392.5h2M379 393.5h5" fill="none" stroke="#0000ff" stroke-width="1"/>
<path d="M500 322.5h2M496 323.5h4M502 323.5h2M494 324.5h2M504 324.5h2M492 325.5h2M506 325.5h2M490 326.5h2M508 326.5h2M489 327.5h1M510 327.5h1M487 328.5h2M511 328.5h1M486 329.5h1M512 329.5h1M250 330.5h2M484 330.5h2M513 330.5h1M249 331.5h1M252 331.5h2M482 331.5h2M514 331.5h2M248 332.5h1M254 332.5h2M481 332.5h1M516 332.5h1M247 333.5h1M256 333.5h3M280 333.5h5M479 333.5h2M517 333.5h1M246 334.5h1M259 334.5h3M274 334.5h6M285 334.5h1M478 334.5h1M518 334.5h1M647 334.5h5M245 335.5h1M262 335.5h2M272 335.5h2M286 335.5h2M476 335.5h2M519 335.5h1M645 335.5h2M652 335.5h6M244 336.5h1M264 336.5h3M270 336.5h2M288 336.5h1M475 336.5h1M520 336.5h1M643 336.5h2M658 336.5h3M243 337.5h1M267 337.5h3M289 337.5h1M473 337.5h2M521 337.5h1M641 337.5h2M661 337.5h3M158 338.5h14M242 338.5h1M290 338.5h2M472 338.5h1M522 338.5h1M639 338.5h2M664 338.5h2M172 339.5h2M241 339.5h1M292 339.5h1M471 339.5h1M522 339.5h1M638 339.5h1M666 339.5h1M174 340.5h2M240 340.5h1M293 340.5h1M469 340.5h2M523 340.5h1M637 340.5h1M667 340.5h1M176 341.5h2M239 341.5h1M294 341.5h1M468 341.5h1M524 341.5h1M636 341.5h1M668 341.5h1M178 342.5h2M238 342.5h1M294 342.5h1M466 342.5h2M525 342.5h1M586 342.5h6M635 342.5h1M669 342.5h2M180 343.5h2M237 343.5h1M295 343.5h1M465 343.5h1M526 343.5h1M580 343.5h6M592 343.5h2M634 343.5h1M671 343.5h1M182 344.5h2M237 344.5h1M296 344.5h1M464 344.5h1M526 344.5h1M578 344.5h2M594 344.5h3M633 344.5h1M672 344.5h1M184 345.5h2M236 345.5h1M296 345.5h1M464 345.5h1M527 345.5h1M576 345.5h2M597 345.5h2M632 345.5h1M673 345.5h1M186 346.5h2M235 346.5h1M297 346.5h1M463 346.5h1M528 346.5h1M574 346.5h2M599 346.5h2M631 346.5h1M674 346.5h2M188 347.5h2M235 347.5h1M298 347.5h1M462 347.5h1M529 347.5h1M573 347.5h1M601 347.5h1M630 347.5h1M676 347.5h2M190 348.5h2M234 348.5h1M299 348.5h1M462 348.5h1M529 348.5h1M572 348.5h1M602 348.5h1M629 348.5h1M678 348.5h2M192 349.5h3M233 349.5h1M299 349.5h1M461 349.5h1M530 349.5h1M572 349.5h1M603 349.5h1M627 349.5h2M680 349.5h2M700 349.5h1M195 350.5h3M232 350.5h1M300 350.5h1M460 350.5h1M531 350.5h1M571 350.5h1M604 350.5h1M626 350.5h1M682 350.5h2M698 350.5h2M198 351.5h2M232 351.5h1M301 351.5h1M460 351.5h1M532 351.5h1M570 351.5h1M605 351.5h2M625 351.5h1M684 351.5h2M697 351.5h1M200 352.5h3M231 352.5h1M301 352.5h1M459 352.5h1M532 352.5h1M569 352.5h1M607 352.5h1M624 352.5h1M686 352.5h1M695 352.5h2M203 353.5h3M230 353.5h1M302 353.5h1M458 353.5h1M533 353.5h1M569 353.5h1M608 353.5h1M622 353.5h2M687 353.5h2M694 353.5h1M206 354.5h2M230 354.5h1M303 354.5h1M458 354.5h1M534 354.5h1M568 354.5h1M609 354.5h1M621 354.5h1M689 354.5h2M692 354.5h2M208 355.5h3M228 355.5h2M303 355.5h1M457 355.5h1M534 355.5h1M567 355.5h1M610 355.5h1M616 355.5h5M691 355.5h1M211 356.5h2M226 356.5h2M304 356.5h1M456 356.5h1M535 356.5h1M566 356.5h1M611 356.5h5M213 357.5h5M224 357.5h2M305 357.5h2M416 357.5h4M456 357.5h1M536 357.5h1M566 357.5h1M218 358.5h6M307 358.5h2M412 358.5h4M420 358.5h1M455 358.5h1M537 358.5h1M565 358.5h1M309 359.5h2M411 359.5h1M421 359.5h1M455 359.5h1M537 359.5h1M564 359.5h1M311 360.5h2M410 360.5h1M422 360.5h1M454 360.5h1M538 360.5h1M563 360.5h1M313 361.5h2M409 361.5h1M423 361.5h2M454 361.5h1M539 361.5h2M562 361.5h1M315 362.5h1M408 362.5h1M425 362.5h1M453 362.5h1M541 362.5h1M561 362.5h1M316 363.5h1M407 363.5h1M426 363.5h1M453 363.5h1M542 363.5h1M560 363.5h1M317 364.5h1M406 364.5h1M427 364.5h1M452 364.5h1M543 364.5h2M559 364.5h1M318 365.5h1M405 365.5h1M428 365.5h1M452 365.5h1M545 365.5h1M558 365.5h1M319 366.5h1M404 366.5h1M429 366.5h1M451 366.5h1M546 366.5h2M557 366.5h1M319 367.5h1M403 367.5h1M429 367.5h1M451 367.5h1M548 367.5h9M320 368.5h1M402 368.5h1M430 368.5h1M450 368.5h1M321 369.5h1M401 369.5h1M431 369.5h1M450 369.5h1M322 370.5h1M400 370.5h1M431 370.5h1M449 370.5h1M323 371.5h1M400 371.5h1M432 371.5h1M449 371.5h1M324 372.5h1M399 372.5h1M433 372.5h1M448 372.5h1M325 373.5h1M398 373.5h1M434 373.5h1M448 373.5h1M326 374.5h1M398 374.5h1M434 374.5h1M446 374.5h2M327 375.5h1M397 375.5h1M435 375.5h1M444 375.5h2M327 376.5h1M396 376.5h1M436 376.5h1M441 376.5h3M328 377.5h1M396 377.5h1M436 377.5h1M439 377.5h2M329 378.5h1M395 378.5h1M437 378.5h2M330 379.5h1M394 379.5h1M331 380.5h1M394 380.5h1M332 381.5h1M393 381.5h1M333 382.5h1M392 382.5h1M334 383.5h1M392 383.5h1M335 384.5h1M391 384.5h1M336 385.5h1M390 385.5h1M337 386.5h1M390 386.5h1M338 387.5h1M389 387.5h1M339 388.5h1M389 388.5h1M340 389.5h2M388 389.5h1M342 390.5h3M388 390.5h1M345 391.5h4M387 391.5h1M349 392.5h2M387 392.5h1M351 393.5h2M386 393.5h1M353 394.5h2M386 394.5h1M355 395.5h2M385 395.5h1M357 396.5h2M385 396.5h1M359 397.5h2M384 397.5h1M361 398.5h2M384 398.5h1M363 399.5h2M383 399.5h1M365 400.5h2M381 400.5h2M367 401.5h2M379 401.5h2M369 402.5h2M377 402.5h2M371 403.5h2M375 403.5h2M373 404.5h2" fill="none" stroke="#ff0000" stroke-width="1"/>
</g>
<g shape-rendering="crispEdges">
<path d="M4 430.5H719" stroke="#000" stroke-dasharray="1 7" fill="none"/>
<rect x="720" y="430" width="4" height="1" fill="#000"/>
<path d="M4 473.5H719" stroke="#000" stroke-dasharray="1 7" fill="none"/>
<rect x="720" y="473" width="4" height="1" fill="#000"/>
<path d="M4 515.5H719" stroke="#000" stroke-dasharray="1 7" fill="none"/>
<rect x="720" y="515" width="4" height="1" fill="#000"/>
<path d="M4 558.5H719" stroke="#000" stroke-dasharray="1 7" fill="none"/>
<rect x="720" y="558" width="4" height="1" fill="#000"/>
<path d="M4 601.5H719" stroke="#000" stroke-dasharray="1 7" fill="none"/>
<rect x="720" y="601" width="4" height="1" fill="#000"/>
<path d="M4 644.5H719" stroke="#000" stroke-dasharray="1 7" fill="none"/>
<rect x="720" y="644" width="4" height="1" fill="#000"/>
<path d="M4 687.5H719" stroke="#000" stroke-dasharray="1 7" fill="none"/>
<rect x="720" y="687" width="4" height="1" fill="#000"/>
<path d="M4 730.5H719" stroke="#000" stroke-dasharray="1 7" fill="none"/>
<rect x="720" y="730" width="4" height="1" fill="#000"/>
<rect x="3" y="416" width="1" height="316" fill="#000"/>
<rect x="3" y="416" width="717" height="1" fill="#000"/>
<rect x="719" y="416" width="1" height="316" fill="#000"/>
<rect x="3" y="731" width="717" height="1" fill="#000"/>
<rect x="5" y="732" width="1" height="7" fill="#000"/>
<rect x="194" y="732" width="1" height="7" fill="#000"/>
<rect x="402" y="732" width="1" height="7" fill="#000"/>
<rect x="574" y="732" width="1" height="7" fill="#000"/>
<rect x="4" y="669" width="3" height="3" fill="#009900"/>
<rect x="13" y="669" width="3" height="3" fill="#009900"/>
<rect x="22" y="669" width="3" height="3" fill="#009900"/>
<rect x="31" y="669" width="3" height="3" fill="#009900"/>
<rect x="40" y="669" width="3" height="3" fill="#009900"/>
<rect x="49" y="669" width="3" height="3" fill="#009900"/>
<rect x="58" y="669" width="3" height="3" fill="#009900"/>
<rect x="67" y="669" width="3" height="3" fill="#009900"/>
<rect x="76" y="669" width="3" height="3" fill="#009900"/>
<rect x="85" y="669" width="3" height="3" fill="#009900"/>
<rect x="94" y="719" width="3" height="3" fill="#009900"/>
<rect x="103" y="719" width="3" height="3" fill="#009900"/>
<rect x="112" y="719" width="3" height="3" fill="#009900"/>
<rect x="121" y="719" width="3" height="3" fill="#009900"/>
<rect x="130" y="719" width="3" height="3" fill="#009900"/>
<rect x="139" y="719" width="3" height="3" fill="#009900"/>
<rect x="148" y="719" width="3" height="3" fill="#009900"/>
<rect x="157" y="719" width="3" height="3" fill="#009900"/>
<rect x="166" y="719" width="3" height="3" fill="#009900"/>
<rect x="175" y="719" width="3" height="3" fill="#009900"/>
<rect x="184" y="719" width="3" height="3" fill="#009900"/>
<rect x="193" y="719" width="3" height="3" fill="#009900"/>
<rect x="202" y="719" width="3" height="3" fill="#009900"/>
<rect x="211" y="719" width="3" height="3" fill="#009900"/>
<rect x="220" y="719" width="3" height="3" fill="#009900"/>
<rect x="229" y="719" width="3" height="3" fill="#009900"/>
<rect x="238" y="719" width="3" height="3" fill="#009900"/>
<rect x="248" y="719" width="3" height="3" fill="#009900"/>
<rect x="257" y="719" width="3" height="3" fill="#009900"/>
<rect x="266" y="719" width="3" height="3" fill="#009900"/>
<rect x="275" y="719" width="3" height="3" fill="#009900"/>
<rect x="284" y="719" width="3" height="3" fill="#009900"/>
<rect x="293" y="719" width="3" height="3" fill="#009900"/>
<rect x="302" y="719" width="3" height="3" fill="#009900"/>
<rect x="311" y="719" width="3" height="3" fill="#009900"/>
<rect x="320" y="719" width="3" height="3" fill="#009900"/>
<rect x="329" y="719" width="3" height="3" fill="#009900"/>
<rect x="338" y="719" width="3" height="3" fill="#009900"/>
<rect x="347" y="719" width="3" height="3" fill="#009900"/>
<rect x="356" y="719" width="3" height="3" fill="#009900"/>
<rect x="365" y="719" width="3" height="3" fill="#009900"/>
<rect x="374" y="719" width="3" height="3" fill="#009900"/>
<rect x="383" y="719" width="3" height="3" fill="#009900"/>
<rect x="392" y="719" width="3" height="3" fill="#009900"/>
<rect x="401" y="719" width="3" height="3" fill="#009900"/>
<rect x="410" y="719" width="3" height="3" fill="#009900"/>
<rect x="419" y="719" width="3" height="3" fill="#009900"/>
<rect x="428" y="719" width="3" height="3" fill="#009900"/>
<rect x="437" y="719" width="3" height="3" fill="#009900"/>
<rect x="446" y="719" width="3" height="3" fill="#009900"/>
<rect x="455" y="719" width="3" height="3" fill="#009900"/>
<rect x="464" y="719" width="3" height="3" fill="#009900"/>
<rect x="473" y="719" width="3" height="3" fill="#009900"/>
<rect x="483" y="719" width="3" height="3" fill="#009900"/>
<rect x="492" y="719" width="3" height="3" fill="#009900"/>
<rect x="501" y="719" width="3" height="3" fill="#009900"/>
<rect x="510" y="719" width="3" height="3" fill="#009900"/>
<rect x="519" y="719" width="3" height="3" fill="#009900"/>
<rect x="528" y="719" width="3" height="3" fill="#009900"/>
<rect x="537" y="719" width="3" height="3" fill="#009900"/>
<rect x="546" y="719" width="3" height="3" fill="#009900"/>
<rect x="555" y="719" width="3" height="3" fill="#009900"/>
<rect x="564" y="719" width="3" height="3" fill="#009900"/>
<rect x="573" y="719" width="3" height="3" fill="#009900"/>
<rect x="582" y="719" width="3" height="3" fill="#009900"/>
<rect x="591" y="719" width="3" height="3" fill="#009900"/>
<rect x="600" y="719" width="3" height="3" fill="#009900"/>
<rect x="609" y="719" width="3" height="3" fill="#009900"/>
<rect x="618" y="719" width="3" height="3" fill="#009900"/>
<rect x="627" y="719" width="3" height="3" fill="#009900"/>
<rect x="636" y="719" width="3" height="3" fill="#009900"/>
<rect x="645" y="719" width="3" height="3" fill="#009900"/>
<rect x="654" y="719" width="3" height="3" fill="#009900"/>
<rect x="663" y="719" width="3" height="3" fill="#009900"/>
<rect x="672" y="719" width="3" height="3" fill="#009900"/>
<rect x="681" y="719" width="3" height="3" fill="#009900"/>
<rect x="690" y="719" width="3" height="3" fill="#009900"/>
<rect x="699" y="719" width="3" height="3" fill="#009900"/>
<rect x="4" y="647" width="3" height="3" fill="#ff0000"/>
<rect x="13" y="659" width="3" height="3" fill="#ff0000"/>
<rect x="22" y="660" width="3" height="3" fill="#ff0000"/>
<rect x="31" y="661" width="3" height="3" fill="#ff0000"/>
<rect x="40" y="665" width="3" height="3" fill="#ff0000"/>
<rect x="49" y="681" width="3" height="3" fill="#ff0000"/>
<rect x="58" y="689" width="3" height="3" fill="#ff0000"/>
<rect x="67" y="698" width="3" height="3" fill="#ff0000"/>
<rect x="76" y="710" width="3" height="3" fill="#ff0000"/>
<rect x="85" y="713" width="3" height="3" fill="#ff0000"/>
<rect x="94" y="703" width="3" height="3" fill="#ff0000"/>
<rect x="103" y="691" width="3" height="3" fill="#ff0000"/>
<rect x="112" y="683" width="3" height="3" fill="#ff0000"/>
<rect x="121" y="666" width="3" height="3" fill="#ff0000"/>
<rect x="130" y="665" width="3" height="3" fill="#ff0000"/>
<rect x="139" y="669" width="3" height="3" fill="#ff0000"/>
<rect x="148" y="660" width="3" height="3" fill="#ff0000"/>
<rect x="157" y="656" width="3" height="3" fill="#ff0000"/>
<rect x="166" y="641" width="3" height="3" fill="#ff0000"/>
<rect x="175" y="643" width="3" height="3" fill="#ff0000"/>
<rect x="184" y="643" width="3" height="3" fill="#ff0000"/>
<rect x="193" y="643" width="3" height="3" fill="#ff0000"/>
<rect x="202" y="643" width="3" height="3" fill="#ff0000"/>
<rect x="211" y="643" width="3" height="3" fill="#ff0000"/>
<rect x="220" y="643" width="3" height="3" fill="#ff0000"/>
<rect x="229" y="643" width="3" height="3" fill="#ff0000"/>
<rect x="238" y="643" width="3" height="3" fill="#ff0000"/>
<rect x="248" y="643" width="3" height="3" fill="#ff0000"/>
<rect x="257" y="618" width="3" height="3" fill="#ff0000"/>
<rect x="266" y="618" width="3" height="3" fill="#ff0000"/>
<rect x="275" y="618" width="3" height="3" fill="#ff0000"/>
<rect x="284" y="618" width="3" height="3" fill="#ff0000"/>
<rect x="293" y="593" width="3" height="3" fill="#ff0000"/>
<rect x="302" y="593" width="3" height="3" fill="#ff0000"/>
<rect x="311" y="593" width="3" height="3" fill="#ff0000"/>
<rect x="320" y="593" width="3" height="3" fill="#ff0000"/>
<rect x="329" y="593" width="3" height="3" fill="#ff0000"/>
<rect x="338" y="593" width="3" height="3" fill="#ff0000"/>
<rect x="347" y="593" width="3" height="3" fill="#ff0000"/>
<rect x="356" y="593" width="3" height="3" fill="#ff0000"/>
<rect x="365" y="593" width="3" height="3" fill="#ff0000"/>
<rect x="374" y="593" width="3" height="3" fill="#ff0000"/>
<rect x="383" y="593" width="3" height="3" fill="#ff0000"/>
<rect x="392" y="593" width="3" height="3" fill="#ff0000"/>
<rect x="401" y="593" width="3" height="3" fill="#ff0000"/>
<rect x="410" y="593" width="3" height="3" fill="#ff0000"/>
<rect x="419" y="593" width="3" height="3" fill="#ff0000"/>
<rect x="428" y="593" width="3" height="3" fill="#ff0000"/>
<rect x="437" y="593" width="3" height="3" fill="#ff0000"/>
<rect x="446" y="593" width="3" height="3" fill="#ff0000"/>
<rect x="455" y="593" width="3" height="3" fill="#ff0000"/>
<rect x="464" y="593" width="3" height="3" fill="#ff0000"/>
<rect x="473" y="593" width="3" height="3" fill="#ff0000"/>
<rect x="483" y="593" width="3" height="3" fill="#ff0000"/>
<rect x="492" y="593" width="3" height="3" fill="#ff0000"/>
<rect x="501" y="548" width="3" height="3" fill="#ff0000"/>
<rect x="510" y="548" width="3" height="3" fill="#ff0000"/>
<rect x="519" y="548" width="3" height="3" fill="#ff0000"/>
<rect x="528" y="548" width="3" height="3" fill="#ff0000"/>
<rect x="537" y="548" width="3" height="3" fill="#ff0000"/>
<rect x="546" y="548" width="3" height="3" fill="#ff0000"/>
<rect x="555" y="548" width="3" height="3" fill="#ff0000"/>
<rect x="564" y="548" width="3" height="3" fill="#ff0000"/>
<rect x="573" y="548" width="3" height="3" fill="#ff0000"/>
<rect x="582" y="522" width="3" height="3" fill="#ff0000"/>
<rect x="591" y="522" width="3" height="3" fill="#ff0000"/>
<rect x="600" y="522" width="3" height="3" fill="#ff0000"/>
<rect x="609" y="522" width="3" height="3" fill="#ff0000"/>
<rect x="618" y="522" width="3" height="3" fill="#ff0000"/>
<rect x="627" y="522" width="3" height="3" fill="#ff0000"/>
<rect x="636" y="522" width="3" height="3" fill="#ff0000"/>
<rect x="645" y="522" width="3" height="3" fill="#ff0000"/>
<rect x="654" y="468" width="3" height="3" fill="#ff0000"/>
<rect x="663" y="468" width="3" height="3" fill="#ff0000"/>
<rect x="672" y="468" width="3" height="3" fill="#ff0000"/>
<rect x="681" y="468" width="3" height="3" fill="#ff0000"/>
<rect x="690" y="472" width="3" height="3" fill="#ff0000"/>
<rect x="699" y="472" width="3" height="3" fill="#ff0000"/>
<path d="M696 455.5h2M693 456.5h3M690 457.5h3M687 458.5h3M684 459.5h3M681 460.5h3M679 461.5h2M677 462.5h2M675 463.5h2M673 464.5h2M671 465.5h2M670 466.5h1M668 467.5h2M667 468.5h1M665 469.5h2M664 470.5h1M663 471.5h1M662 472.5h1M661 473.5h1M660 474.5h1M660 475.5h1M659 476.5h1M658 477.5h1M657 478.5h1M656 479.5h1M655 480.5h1M654 481.5h1M653 482.5h1M652 483.5h1M651 484.5h1M651 485.5h1M650 486.5h1M649 487.5h1M648 488.5h1M647 489.5h1M646 490.5h1M645 491.5h1M645 492.5h1M644 493.5h1M643 494.5h1M642 495.5h1M642 496.5h1M641 497.5h1M640 498.5h1M639 499.5h1M638 500.5h1M637 501.5h1M636 502.5h1M635 503.5h1M634 504.5h1M633 505.5h1M632 506.5h1M630 507.5h2M629 508.5h1M628 509.5h1M626 510.5h2M624 511.5h2M622 512.5h2M620 513.5h2M618 514.5h2M615 515.5h3M612 516.5h3M610 517.5h2M608 518.5h2M606 519.5h2M604 520.5h2M602 521.5h2M601 522.5h1M600 523.5h1M599 524.5h1M598 525.5h1M596 526.5h2M595 527.5h1M594 528.5h1M593 529.5h1M592 530.5h1M591 531.5h1M590 532.5h1M589 533.5h1M588 534.5h1M588 535.5h1M587 536.5h1M586 537.5h1M585 538.5h1M584 539.5h1M583 540.5h1M582 541.5h1M581 542.5h1M580 543.5h1M579 544.5h1M579 545.5h1M578 546.5h1M577 547.5h1M576 548.5h1M575 549.5h1M574 550.5h1M532 551.5h10M573 551.5h1M529 552.5h3M542 552.5h2M572 552.5h1M527 553.5h2M544 553.5h2M571 553.5h1M526 554.5h1M546 554.5h3M569 554.5h2M525 555.5h1M549 555.5h3M567 555.5h2M523 556.5h2M552 556.5h3M565 556.5h2M522 557.5h1M555 557.5h4M563 557.5h2M520 558.5h2M559 558.5h4M519 559.5h1M517 560.5h2M516 561.5h1M515 562.5h1M515 563.5h1M514 564.5h1M513 565.5h1M512 566.5h1M512 567.5h1M511 568.5h1M510 569.5h1M510 570.5h1M509 571.5h1M508 572.5h1M507 573.5h1M507 574.5h1M506 575.5h1M506 576.5h1M505 577.5h1M505 578.5h1M504 579.5h1M504 580.5h1M503 581.5h1M503 582.5h1M502 583.5h1M502 584.5h1M501 585.5h1M501 586.5h1M500 587.5h1M500 588.5h1M499 589.5h1M499 590.5h1M498 591.5h1M498 592.5h1M497 593.5h1M496 594.5h1M496 595.5h1M495 596.5h1M495 597.5h1M494 598.5h1M494 599.5h1M493 600.5h1M492 601.5h1M492 602.5h1M290 603.5h13M491 603.5h1M288 604.5h2M303 604.5h6M491 604.5h1M286 605.5h2M309 605.5h5M490 605.5h1M285 606.5h1M314 606.5h3M489 606.5h1M284 607.5h1M317 607.5h3M489 607.5h1M282 608.5h2M320 608.5h2M488 608.5h1M281 609.5h1M322 609.5h2M488 609.5h1M280 610.5h1M324 610.5h1M487 610.5h1M278 611.5h2M325 611.5h2M486 611.5h1M277 612.5h1M327 612.5h1M486 612.5h1M275 613.5h2M328 613.5h2M485 613.5h1M272 614.5h3M330 614.5h1M485 614.5h1M269 615.5h3M331 615.5h2M484 615.5h1M267 616.5h2M333 616.5h1M483 616.5h1M266 617.5h1M334 617.5h2M483 617.5h1M264 618.5h2M336 618.5h1M482 618.5h1M263 619.5h1M337 619.5h2M481 619.5h1M262 620.5h1M339 620.5h2M480 620.5h1M260 621.5h2M341 621.5h2M480 621.5h1M259 622.5h1M343 622.5h2M479 622.5h1M258 623.5h1M345 623.5h2M478 623.5h1M256 624.5h2M347 624.5h2M478 624.5h1M255 625.5h1M349 625.5h2M477 625.5h1M253 626.5h2M351 626.5h1M476 626.5h1M252 627.5h1M352 627.5h2M475 627.5h1M250 628.5h2M354 628.5h1M475 628.5h1M249 629.5h1M355 629.5h2M474 629.5h1M247 630.5h2M357 630.5h1M473 630.5h1M246 631.5h1M358 631.5h1M471 631.5h2M244 632.5h2M359 632.5h2M470 632.5h1M243 633.5h1M361 633.5h1M469 633.5h1M242 634.5h1M362 634.5h1M467 634.5h2M240 635.5h2M363 635.5h2M466 635.5h1M239 636.5h1M365 636.5h1M465 636.5h1M237 637.5h2M366 637.5h1M463 637.5h2M236 638.5h1M367 638.5h1M462 638.5h1M234 639.5h2M368 639.5h2M460 639.5h2M233 640.5h1M370 640.5h1M459 640.5h1M231 641.5h2M371 641.5h1M457 641.5h2M228 642.5h3M372 642.5h2M427 642.5h16M452 642.5h5M224 643.5h4M374 643.5h1M423 643.5h4M443 643.5h9M219 644.5h5M375 644.5h1M418 644.5h5M215 645.5h4M376 645.5h2M414 645.5h4M211 646.5h4M378 646.5h2M410 646.5h4M208 647.5h3M380 647.5h2M408 647.5h2M205 648.5h3M382 648.5h2M406 648.5h2M202 649.5h3M384 649.5h3M404 649.5h2M200 650.5h2M387 650.5h4M398 650.5h6M198 651.5h2M391 651.5h7M196 652.5h2M194 653.5h2M192 654.5h2M191 655.5h1M189 656.5h2M188 657.5h1M186 658.5h2M185 659.5h1M184 660.5h1M183 661.5h1M182 662.5h1M181 663.5h1M179 664.5h2M178 665.5h1M177 666.5h1M176 667.5h1M175 668.5h1M174 669.5h1M173 670.5h1M171 671.5h2M170 672.5h1M169 673.5h1M167 674.5h2M166 675.5h1M165 676.5h1M163 677.5h2M162 678.5h1M161 679.5h1M160 680.5h1M159 681.5h1M158 682.5h1M157 683.5h1M156 684.5h1M155 685.5h1M154 686.5h1M153 687.5h1M152 688.5h1M151 689.5h1M150 690.5h1M149 691.5h1M148 692.5h1M147 693.5h1M146 694.5h1M145 695.5h1M144 696.5h1M143 697.5h1M142 698.5h1M141 699.5h1M140 700.5h1" fill="none" stroke="#0000ff" stroke-width="1"/>
<rect x="5" y="650" width="1" height="5" fill="#000"/>
<rect x="5" y="664" width="1" height="5" fill="#000"/>
<rect x="2" y="655" width="7" height="9" fill="#000"/>
<rect x="14" y="662" width="1" height="3" fill="#000"/>
<rect x="11" y="665" width="7" height="10" fill="#000"/>
<rect x="12" y="666" width="5" height="8" fill="#fff"/>
<rect x="23" y="663" width="1" height="1" fill="#000"/>
<rect x="20" y="664" width="7" height="7" fill="#000"/>
<rect x="21" y="665" width="5" height="5" fill="#fff"/>
<rect x="29" y="663" width="7" height="5" fill="#000"/>
<rect x="38" y="667" width="7" height="13" fill="#000"/>
<rect x="50" y="683" width="1" height="1" fill="#000"/>
<rect x="50" y="691" width="1" height="4" fill="#000"/>
<rect x="47" y="684" width="7" height="7" fill="#000"/>
<rect x="59" y="698" width="1" height="3" fill="#000"/>
<rect x="56" y="690" width="7" height="8" fill="#000"/>
<rect x="65" y="700" width="7" height="10" fill="#000"/>
<rect x="74" y="712" width="7" height="6" fill="#000"/>
<rect x="86" y="721" width="1" height="4" fill="#000"/>
<rect x="83" y="716" width="7" height="5" fill="#000"/>
<rect x="95" y="706" width="1" height="3" fill="#000"/>
<rect x="92" y="709" width="7" height="12" fill="#000"/>
<rect x="93" y="710" width="5" height="10" fill="#fff"/>
<rect x="104" y="694" width="1" height="5" fill="#000"/>
<rect x="104" y="703" width="1" height="1" fill="#000"/>
<rect x="101" y="699" width="7" height="4" fill="#000"/>
<rect x="102" y="700" width="5" height="2" fill="#fff"/>
<rect x="113" y="686" width="1" height="1" fill="#000"/>
<rect x="113" y="691" width="1" height="2" fill="#000"/>
<rect x="110" y="687" width="7" height="4" fill="#000"/>
<rect x="111" y="688" width="5" height="2" fill="#fff"/>
<rect x="122" y="669" width="1" height="3" fill="#000"/>
<rect x="119" y="672" width="7" height="8" fill="#000"/>
<rect x="120" y="673" width="5" height="6" fill="#fff"/>
<rect x="131" y="672" width="1" height="5" fill="#000"/>
<rect x="128" y="666" width="7" height="6" fill="#000"/>
<rect x="140" y="672" width="1" height="1" fill="#000"/>
<rect x="140" y="677" width="1" height="1" fill="#000"/>
<rect x="137" y="673" width="7" height="4" fill="#000"/>
<rect x="149" y="663" width="1" height="10" fill="#000"/>
<rect x="146" y="673" width="7" height="3" fill="#000"/>
<rect x="147" y="674" width="5" height="1" fill="#fff"/>
<rect x="158" y="672" width="1" height="6" fill="#000"/>
<rect x="155" y="657" width="7" height="15" fill="#000"/>
<rect x="156" y="658" width="5" height="13" fill="#fff"/>
<rect x="167" y="644" width="1" height="8" fill="#000"/>
<rect x="167" y="658" width="1" height="3" fill="#000"/>
<rect x="164" y="652" width="7" height="6" fill="#000"/>
<rect x="165" y="653" width="5" height="4" fill="#fff"/>
<rect x="176" y="659" width="1" height="2" fill="#000"/>
<rect x="173" y="644" width="7" height="15" fill="#000"/>
<rect x="185" y="658" width="1" height="10" fill="#000"/>
<rect x="182" y="653" width="7" height="5" fill="#000"/>
<rect x="183" y="654" width="5" height="3" fill="#fff"/>
<rect x="194" y="654" width="1" height="1" fill="#000"/>
<rect x="194" y="660" width="1" height="3" fill="#000"/>
<rect x="191" y="655" width="7" height="5" fill="#000"/>
<rect x="203" y="650" width="1" height="1" fill="#000"/>
<rect x="203" y="654" width="1" height="4" fill="#000"/>
<rect x="200" y="651" width="7" height="3" fill="#000"/>
<rect x="201" y="652" width="5" height="1" fill="#fff"/>
<rect x="212" y="651" width="1" height="3" fill="#000"/>
<rect x="212" y="656" width="1" height="3" fill="#000"/>
<rect x="209" y="654" width="7" height="2" fill="#000"/>
<rect x="221" y="655" width="1" height="2" fill="#000"/>
<rect x="218" y="651" width="7" height="4" fill="#000"/>
<rect x="230" y="638" width="1" height="5" fill="#000"/>
<rect x="227" y="643" width="7" height="8" fill="#000"/>
<rect x="228" y="644" width="5" height="6" fill="#fff"/>
<rect x="239" y="635" width="1" height="2" fill="#000"/>
<rect x="236" y="615" width="7" height="20" fill="#000"/>
<rect x="237" y="616" width="5" height="18" fill="#fff"/>
<rect x="249" y="609" width="1" height="1" fill="#000"/>
<rect x="249" y="617" width="1" height="1" fill="#000"/>
<rect x="246" y="610" width="7" height="7" fill="#000"/>
<rect x="255" y="619" width="7" height="16" fill="#000"/>
<rect x="267" y="614" width="1" height="2" fill="#000"/>
<rect x="267" y="624" width="1" height="5" fill="#000"/>
<rect x="264" y="616" width="7" height="8" fill="#000"/>
<rect x="265" y="617" width="5" height="6" fill="#fff"/>
<rect x="276" y="587" width="1" height="5" fill="#000"/>
<rect x="276" y="618" width="1" height="5" fill="#000"/>
<rect x="273" y="592" width="7" height="26" fill="#000"/>
<rect x="274" y="593" width="5" height="24" fill="#fff"/>
<rect x="285" y="574" width="1" height="10" fill="#000"/>
<rect x="285" y="602" width="1" height="1" fill="#000"/>
<rect x="282" y="584" width="7" height="18" fill="#000"/>
<rect x="294" y="595" width="1" height="8" fill="#000"/>
<rect x="291" y="603" width="7" height="20" fill="#000"/>
<rect x="303" y="614" width="1" height="8" fill="#000"/>
<rect x="303" y="629" width="1" height="4" fill="#000"/>
<rect x="300" y="622" width="7" height="7" fill="#000"/>
<rect x="312" y="606" width="1" height="2" fill="#000"/>
<rect x="312" y="628" width="1" height="4" fill="#000"/>
<rect x="309" y="608" width="7" height="20" fill="#000"/>
<rect x="310" y="609" width="5" height="18" fill="#fff"/>
<rect x="321" y="609" width="1" height="1" fill="#000"/>
<rect x="321" y="631" width="1" height="6" fill="#000"/>
<rect x="318" y="610" width="7" height="21" fill="#000"/>
<rect x="330" y="629" width="1" height="5" fill="#000"/>
<rect x="330" y="640" width="1" height="8" fill="#000"/>
<rect x="327" y="634" width="7" height="6" fill="#000"/>
<rect x="339" y="632" width="1" height="2" fill="#000"/>
<rect x="336" y="634" width="7" height="5" fill="#000"/>
<rect x="348" y="635" width="1" height="4" fill="#000"/>
<rect x="345" y="628" width="7" height="7" fill="#000"/>
<rect x="346" y="629" width="5" height="5" fill="#fff"/>
<rect x="354" y="632" width="7" height="16" fill="#000"/>
<rect x="366" y="646" width="1" height="2" fill="#000"/>
<rect x="366" y="652" width="1" height="3" fill="#000"/>
<rect x="363" y="648" width="7" height="4" fill="#000"/>
<rect x="375" y="647" width="1" height="2" fill="#000"/>
<rect x="372" y="649" width="7" height="2" fill="#000"/>
<rect x="384" y="639" width="1" height="4" fill="#000"/>
<rect x="384" y="646" width="1" height="2" fill="#000"/>
<rect x="381" y="643" width="7" height="3" fill="#000"/>
<rect x="382" y="644" width="5" height="1" fill="#fff"/>
<rect x="390" y="616" width="7" height="8" fill="#000"/>
<rect x="391" y="617" width="5" height="6" fill="#fff"/>
<rect x="402" y="629" width="1" height="3" fill="#000"/>
<rect x="399" y="616" width="7" height="13" fill="#000"/>
<rect x="411" y="609" width="1" height="5" fill="#000"/>
<rect x="411" y="622" width="1" height="3" fill="#000"/>
<rect x="408" y="614" width="7" height="8" fill="#000"/>
<rect x="420" y="628" width="1" height="4" fill="#000"/>
<rect x="417" y="623" width="7" height="5" fill="#000"/>
<rect x="429" y="642" width="1" height="2" fill="#000"/>
<rect x="426" y="631" width="7" height="11" fill="#000"/>
<rect x="438" y="646" width="1" height="7" fill="#000"/>
<rect x="435" y="644" width="7" height="2" fill="#000"/>
<rect x="447" y="620" width="1" height="3" fill="#000"/>
<rect x="444" y="623" width="7" height="9" fill="#000"/>
<rect x="445" y="624" width="5" height="7" fill="#fff"/>
<rect x="456" y="604" width="1" height="10" fill="#000"/>
<rect x="453" y="602" width="7" height="2" fill="#000"/>
<rect x="465" y="602" width="1" height="3" fill="#000"/>
<rect x="465" y="607" width="1" height="4" fill="#000"/>
<rect x="462" y="605" width="7" height="2" fill="#000"/>
<rect x="474" y="596" width="1" height="4" fill="#000"/>
<rect x="471" y="586" width="7" height="10" fill="#000"/>
<rect x="484" y="569" width="1" height="4" fill="#000"/>
<rect x="484" y="585" width="1" height="2" fill="#000"/>
<rect x="481" y="573" width="7" height="12" fill="#000"/>
<rect x="482" y="574" width="5" height="10" fill="#fff"/>
<rect x="493" y="548" width="1" height="4" fill="#000"/>
<rect x="493" y="568" width="1" height="2" fill="#000"/>
<rect x="490" y="552" width="7" height="16" fill="#000"/>
<rect x="491" y="553" width="5" height="14" fill="#fff"/>
<rect x="502" y="550" width="1" height="4" fill="#000"/>
<rect x="502" y="558" width="1" height="10" fill="#000"/>
<rect x="499" y="554" width="7" height="4" fill="#000"/>
<rect x="500" y="555" width="5" height="2" fill="#fff"/>
<rect x="511" y="550" width="1" height="3" fill="#000"/>
<rect x="511" y="558" width="1" height="4" fill="#000"/>
<rect x="508" y="553" width="7" height="5" fill="#000"/>
<rect x="509" y="554" width="5" height="3" fill="#fff"/>
<rect x="520" y="531" width="1" height="18" fill="#000"/>
<rect x="520" y="560" width="1" height="3" fill="#000"/>
<rect x="517" y="549" width="7" height="11" fill="#000"/>
<rect x="529" y="566" width="1" height="4" fill="#000"/>
<rect x="529" y="586" width="1" height="9" fill="#000"/>
<rect x="526" y="570" width="7" height="16" fill="#000"/>
<rect x="527" y="571" width="5" height="14" fill="#fff"/>
<rect x="538" y="565" width="1" height="8" fill="#000"/>
<rect x="538" y="596" width="1" height="12" fill="#000"/>
<rect x="535" y="573" width="7" height="23" fill="#000"/>
<rect x="547" y="571" width="1" height="1" fill="#000"/>
<rect x="547" y="580" width="1" height="2" fill="#000"/>
<rect x="544" y="572" width="7" height="8" fill="#000"/>
<rect x="545" y="573" width="5" height="6" fill="#fff"/>
<rect x="556" y="552" width="1" height="4" fill="#000"/>
<rect x="556" y="567" width="1" height="2" fill="#000"/>
<rect x="553" y="556" width="7" height="11" fill="#000"/>
<rect x="554" y="557" width="5" height="9" fill="#fff"/>
<rect x="565" y="532" width="1" height="4" fill="#000"/>
<rect x="562" y="536" width="7" height="8" fill="#000"/>
<rect x="563" y="537" width="5" height="6" fill="#fff"/>
<rect x="574" y="523" width="1" height="2" fill="#000"/>
<rect x="574" y="541" width="1" height="3" fill="#000"/>
<rect x="571" y="525" width="7" height="16" fill="#000"/>
<rect x="572" y="526" width="5" height="14" fill="#fff"/>
<rect x="583" y="532" width="1" height="3" fill="#000"/>
<rect x="580" y="525" width="7" height="7" fill="#000"/>
<rect x="592" y="532" width="1" height="2" fill="#000"/>
<rect x="589" y="526" width="7" height="6" fill="#000"/>
<rect x="590" y="527" width="5" height="4" fill="#fff"/>
<rect x="601" y="541" width="1" height="11" fill="#000"/>
<rect x="598" y="534" width="7" height="7" fill="#000"/>
<rect x="610" y="534" width="1" height="5" fill="#000"/>
<rect x="610" y="549" width="1" height="1" fill="#000"/>
<rect x="607" y="539" width="7" height="10" fill="#000"/>
<rect x="619" y="535" width="1" height="1" fill="#000"/>
<rect x="616" y="517" width="7" height="18" fill="#000"/>
<rect x="617" y="518" width="5" height="16" fill="#fff"/>
<rect x="628" y="503" width="1" height="1" fill="#000"/>
<rect x="628" y="515" width="1" height="3" fill="#000"/>
<rect x="625" y="504" width="7" height="11" fill="#000"/>
<rect x="626" y="505" width="5" height="9" fill="#fff"/>
<rect x="637" y="480" width="1" height="3" fill="#000"/>
<rect x="634" y="483" width="7" height="15" fill="#000"/>
<rect x="635" y="484" width="5" height="13" fill="#fff"/>
<rect x="646" y="470" width="1" height="6" fill="#000"/>
<rect x="646" y="485" width="1" height="11" fill="#000"/>
<rect x="643" y="476" width="7" height="9" fill="#000"/>
<rect x="644" y="477" width="5" height="7" fill="#fff"/>
<rect x="655" y="470" width="1" height="3" fill="#000"/>
<rect x="655" y="475" width="1" height="5" fill="#000"/>
<rect x="652" y="473" width="7" height="2" fill="#000"/>
<rect x="664" y="484" width="1" height="4" fill="#000"/>
<rect x="661" y="476" width="7" height="8" fill="#000"/>
<rect x="662" y="477" width="5" height="6" fill="#fff"/>
<rect x="673" y="480" width="1" height="1" fill="#000"/>
<rect x="673" y="492" width="1" height="8" fill="#000"/>
<rect x="670" y="481" width="7" height="11" fill="#000"/>
<rect x="682" y="458" width="1" height="17" fill="#000"/>
<rect x="679" y="475" width="7" height="7" fill="#000"/>
<rect x="680" y="476" width="5" height="5" fill="#fff"/>
<rect x="691" y="475" width="1" height="1" fill="#000"/>
<rect x="691" y="486" width="1" height="2" fill="#000"/>
<rect x="688" y="476" width="7" height="10" fill="#000"/>
<rect x="700" y="432" width="1" height="4" fill="#000"/>
<rect x="697" y="436" width="7" height="20" fill="#000"/>
<rect x="698" y="437" width="5" height="18" fill="#fff"/>
</g>
<path d="M302 591.5h3M302 592.5h3M302 593.5h3M302 594.5h3M302 595.5h3M302 596.5h3M299 597.5h9M300 598.5h7M300 599.5h7M301 600.5h5M301 601.5h5M302 602.5h3M302 603.5h3M303 604.5h1M303 605.5h1" stroke="#ff0000" fill="none" shape-rendering="crispEdges"/>
<path d="M437 621.5h3M437 622.5h3M437 623.5h3M437 624.5h3M437 625.5h3M437 626.5h3M434 627.5h9M435 628.5h7M435 629.5h7M436 630.5h5M436 631.5h5M437 632.5h3M437 633.5h3M438 634.5h1M438 635.5h1" stroke="#ff0000" fill="none" shape-rendering="crispEdges"/>
<path d="M546 548.5h3M546 549.5h3M546 550.5h3M546 551.5h3M546 552.5h3M546 553.5h3M543 554.5h9M544 555.5h7M544 556.5h7M545 557.5h5M545 558.5h5M546 559.5h3M546 560.5h3M547 561.5h1M547 562.5h1" stroke="#ff0000" fill="none" shape-rendering="crispEdges"/>
<path d="M402 639.5h1M402 640.5h1M401 641.5h3M401 642.5h3M400 643.5h5M400 644.5h5M399 645.5h7M399 646.5h7M398 647.5h9M401 648.5h3M401 649.5h3M401 650.5h3M401 651.5h3M401 652.5h3M401 653.5h3" stroke="#009900" fill="none" shape-rendering="crispEdges"/>
<path d="M456 621.5h1M456 622.5h1M455 623.5h3M455 624.5h3M454 625.5h5M454 626.5h5M453 627.5h7M453 628.5h7M452 629.5h9M455 630.5h3M455 631.5h3M455 632.5h3M455 633.5h3M455 634.5h3M455 635.5h3" stroke="#009900" fill="none" shape-rendering="crispEdges"/>
<path d="M565 551.5h1M565 552.5h1M564 553.5h3M564 554.5h3M563 555.5h5M563 556.5h5M562 557.5h7M562 558.5h7M561 559.5h9M564 560.5h3M564 561.5h3M564 562.5h3M564 563.5h3M564 564.5h3M564 565.5h3" stroke="#009900" fill="none" shape-rendering="crispEdges"/>
<rect x="10" y="0" width="455" height="14" fill="#fff" shape-rendering="crispEdges"/>
<rect x="10" y="14" width="399" height="14" fill="#fff" shape-rendering="crispEdges"/>
<text x="9.9" y="11" fill="#000" stroke="#000" textLength="134.5" lengthAdjust="spacing">ELVR - Daily 2025-12-19</text>
<text x="147.7" y="11" fill="#000" stroke="#000" textLength="64.1" lengthAdjust="spacing">Open 47.01</text>
<text x="217.6" y="11" fill="#000" stroke="#000" textLength="58.9" lengthAdjust="spacing">High 49.85</text>
<text x="283.9" y="11" fill="#000" stroke="#000" textLength="56.2" lengthAdjust="spacing">Low 46.98</text>
<text x="347.6" y="11" fill="#000" stroke="#000" textLength="111" lengthAdjust="spacing">Close 49.31 (13.4%)</text>
<text x="9.9" y="25" fill="#000" stroke="#000" textLength="64.2" lengthAdjust="spacing">Vol 125,678</text>
<text x="77.6" y="25" fill="#ff00ff" stroke="#ff00ff" textLength="33" lengthAdjust="spacing">Res-1</text>
<text x="114.5" y="25" fill="#000" stroke="#000" textLength="43.1" lengthAdjust="spacing">= 45.47,</text>
<text x="161.1" y="25" fill="#ff0000" stroke="#ff0000" textLength="33" lengthAdjust="spacing">Res-2</text>
<text x="198.5" y="25" fill="#000" stroke="#000" textLength="43.1" lengthAdjust="spacing">= 45.47,</text>
<text x="246" y="25" fill="#0000ff" stroke="#0000ff" textLength="32.1" lengthAdjust="spacing">Sup-1</text>
<text x="281.4" y="25" fill="#000" stroke="#000" textLength="43.2" lengthAdjust="spacing">= 36.13,</text>
<text x="328.1" y="25" fill="#009900" stroke="#009900" textLength="33" lengthAdjust="spacing">Sup-2</text>
<text x="364.5" y="25" fill="#000" stroke="#000" textLength="40.1" lengthAdjust="spacing">= 25.14</text>
<text x="9" y="310" fill="#000" stroke="#000" textLength="61.3" lengthAdjust="spacing">September</text>
<text x="9" y="743" fill="#000" stroke="#000" textLength="61.3" lengthAdjust="spacing">September</text>
<text x="198" y="310" fill="#000" stroke="#000" textLength="42" lengthAdjust="spacing">October</text>
<text x="198" y="743" fill="#000" stroke="#000" textLength="42" lengthAdjust="spacing">October</text>
<text x="406" y="310" fill="#000" stroke="#000" textLength="56.8" lengthAdjust="spacing">November</text>
<text x="406" y="743" fill="#000" stroke="#000" textLength="56.8" lengthAdjust="spacing">November</text>
<text x="578" y="310" fill="#000" stroke="#000" textLength="57" lengthAdjust="spacing">December</text>
<text x="578" y="743" fill="#000" stroke="#000" textLength="57" lengthAdjust="spacing">December</text>
<text x="761.7" y="22" fill="#000" stroke="#000" textLength="14" lengthAdjust="spacing">50</text>
<text x="761.7" y="62" fill="#000" stroke="#000" textLength="14" lengthAdjust="spacing">45</text>
<text x="761.7" y="102" fill="#000" stroke="#000" textLength="14" lengthAdjust="spacing">40</text>
<text x="761.7" y="141" fill="#000" stroke="#000" textLength="14" lengthAdjust="spacing">35</text>
<text x="761.7" y="181" fill="#000" stroke="#000" textLength="14" lengthAdjust="spacing">30</text>
<text x="761.7" y="221" fill="#000" stroke="#000" textLength="14" lengthAdjust="spacing">25</text>
<text x="761.7" y="261" fill="#000" stroke="#000" textLength="14" lengthAdjust="spacing">20</text>
<text x="761.7" y="301" fill="#000" stroke="#000" textLength="14" lengthAdjust="spacing">15</text>
<text x="761.7" y="434" fill="#000" stroke="#000" textLength="14" lengthAdjust="spacing">50</text>
<text x="761.7" y="477" fill="#000" stroke="#000" textLength="14" lengthAdjust="spacing">45</text>
<text x="761.7" y="519" fill="#000" stroke="#000" textLength="14" lengthAdjust="spacing">40</text>
<text x="761.7" y="562" fill="#000" stroke="#000" textLength="14" lengthAdjust="spacing">35</text>
<text x="761.7" y="605" fill="#000" stroke="#000" textLength="14" lengthAdjust="spacing">30</text>
<text x="761.7" y="648" fill="#000" stroke="#000" textLength="14" lengthAdjust="spacing">25</text>
<text x="761.7" y="691" fill="#000" stroke="#000" textLength="14" lengthAdjust="spacing">20</text>
<text x="761.7" y="734" fill="#000" stroke="#000" textLength="14" lengthAdjust="spacing">15</text>
<text x="761.7" y="341" fill="#000" stroke="#000" textLength="14" lengthAdjust="spacing">80</text>
<text x="761.7" y="365" fill="#000" stroke="#000" textLength="14" lengthAdjust="spacing">60</text>
<text x="761.7" y="389" fill="#000" stroke="#000" textLength="14" lengthAdjust="spacing">40</text>
<rect x="10" y="313" width="355" height="15" fill="#fff" shape-rendering="crispEdges"/>
<text x="10.1" y="325" fill="#000" stroke="#000" textLength="37" lengthAdjust="spacing">ELVR -</text>
<text x="50.8" y="325" fill="#ff0000" stroke="#ff0000" textLength="23.3" lengthAdjust="spacing">Line</text>
<text x="78.1" y="325" fill="#000" stroke="#000" textLength="202.5" lengthAdjust="spacing">= 69.84, Top = 87.73, Bottom = 27.70,</text>
<text x="284.5" y="325" fill="#0000ff" stroke="#0000ff" textLength="34.1" lengthAdjust="spacing">Signal</text>
<text x="322.4" y="325" fill="#000" stroke="#000" textLength="40.2" lengthAdjust="spacing">= 71.44</text>
<rect x="10" y="410" width="426" height="15" fill="#fff" shape-rendering="crispEdges"/>
<rect x="10" y="425" width="321" height="14" fill="#fff" shape-rendering="crispEdges"/>
<text x="9.9" y="422" fill="#000" stroke="#000" textLength="134.5" lengthAdjust="spacing">ELVR - Daily 2025-12-19</text>
<text x="147.7" y="422" fill="#000" stroke="#000" textLength="79.6" lengthAdjust="spacing">Open 47.01,Hi</text>
<text x="230.6" y="422" fill="#000" stroke="#000" textLength="46" lengthAdjust="spacing">49.85,Lo</text>
<text x="279.9" y="422" fill="#000" stroke="#000" textLength="34.5" lengthAdjust="spacing">46.98,</text>
<text x="317.7" y="422" fill="#000" stroke="#000" textLength="113.4" lengthAdjust="spacing">Close 49.31 (13.4%)</text>
<text x="9.9" y="435" fill="#000" stroke="#000" textLength="81.2" lengthAdjust="spacing">Vol 12,567,800</text>
<text x="94.5" y="435" fill="#ff0000" stroke="#ff0000" textLength="21.1" lengthAdjust="spacing">Top</text>
<text x="119.1" y="435" fill="#000" stroke="#000" textLength="43" lengthAdjust="spacing">= 45.00,</text>
<text x="165.3" y="435" fill="#009900" stroke="#009900" textLength="39.8" lengthAdjust="spacing">Bottom</text>
<text x="208.9" y="435" fill="#000" stroke="#000" textLength="43.2" lengthAdjust="spacing">= 16.19,</text>
<text x="255.3" y="435" fill="#0000ff" stroke="#0000ff" textLength="31.3" lengthAdjust="spacing">Trend</text>
<text x="290.1" y="435" fill="#000" stroke="#000" textLength="39.5" lengthAdjust="spacing">= 47.26</text>
</svg>
</body></html>
